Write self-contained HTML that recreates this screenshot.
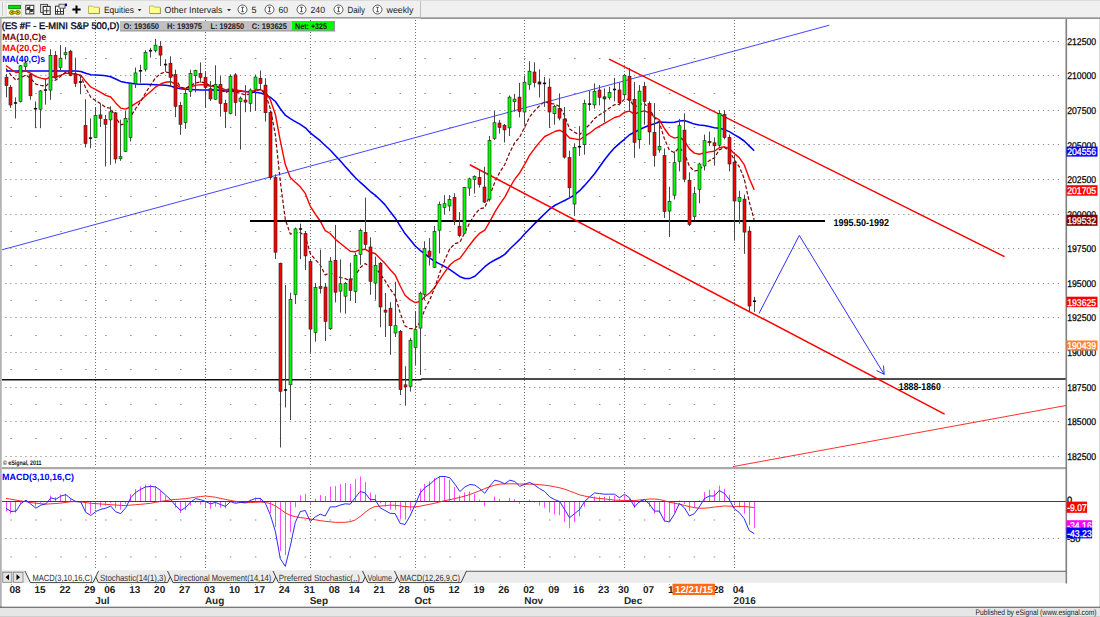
<!DOCTYPE html><html><head><meta charset="utf-8"><title>ES #F - E-MINI S&amp;P 500</title><style>html,body{margin:0;padding:0;background:#f0f0f0}body{width:1100px;height:617px;overflow:hidden}</style></head><body><svg width="1100" height="617" viewBox="0 0 1100 617" style="display:block;text-rendering:geometricPrecision">
<rect x="0" y="0" width="1100" height="617" fill="#f0f0f0"/>
<rect x="2" y="19" width="1097" height="588.5" fill="#ffffff"/>
<g><line x1="5.4" y1="41.5" x2="1060" y2="41.5" stroke="#8e8e8e" stroke-width="1" stroke-dasharray="1.25 3.738" /><line x1="5.4" y1="75.5" x2="1060" y2="75.5" stroke="#8e8e8e" stroke-width="1" stroke-dasharray="1.25 3.738" /><line x1="5.4" y1="110.5" x2="1060" y2="110.5" stroke="#8e8e8e" stroke-width="1" stroke-dasharray="1.25 3.738" /><line x1="5.4" y1="144.5" x2="1060" y2="144.5" stroke="#8e8e8e" stroke-width="1" stroke-dasharray="1.25 3.738" /><line x1="5.4" y1="179.5" x2="1060" y2="179.5" stroke="#8e8e8e" stroke-width="1" stroke-dasharray="1.25 3.738" /><line x1="5.4" y1="214.5" x2="1060" y2="214.5" stroke="#8e8e8e" stroke-width="1" stroke-dasharray="1.25 3.738" /><line x1="5.4" y1="248.5" x2="1060" y2="248.5" stroke="#8e8e8e" stroke-width="1" stroke-dasharray="1.25 3.738" /><line x1="5.4" y1="283.5" x2="1060" y2="283.5" stroke="#8e8e8e" stroke-width="1" stroke-dasharray="1.25 3.738" /><line x1="5.4" y1="317.5" x2="1060" y2="317.5" stroke="#8e8e8e" stroke-width="1" stroke-dasharray="1.25 3.738" /><line x1="5.4" y1="352.5" x2="1060" y2="352.5" stroke="#8e8e8e" stroke-width="1" stroke-dasharray="1.25 3.738" /><line x1="5.4" y1="387.5" x2="1060" y2="387.5" stroke="#8e8e8e" stroke-width="1" stroke-dasharray="1.25 3.738" /><line x1="5.4" y1="421.5" x2="1060" y2="421.5" stroke="#8e8e8e" stroke-width="1" stroke-dasharray="1.25 3.738" /><line x1="5.4" y1="456.5" x2="1060" y2="456.5" stroke="#8e8e8e" stroke-width="1" stroke-dasharray="1.25 3.738" /><line x1="5.4" y1="538.5" x2="1060" y2="538.5" stroke="#8e8e8e" stroke-width="1" stroke-dasharray="1.25 3.738" /><rect x="10.39" y="58.0" width="1.5" height="1" fill="#8e8e8e"/><rect x="35.33" y="58.0" width="1.5" height="1" fill="#8e8e8e"/><rect x="60.27" y="58.0" width="1.5" height="1" fill="#8e8e8e"/><rect x="85.21" y="58.0" width="1.5" height="1" fill="#8e8e8e"/><rect x="105.16" y="58.0" width="1.5" height="1" fill="#8e8e8e"/><rect x="130.10" y="58.0" width="1.5" height="1" fill="#8e8e8e"/><rect x="155.04" y="58.0" width="1.5" height="1" fill="#8e8e8e"/><rect x="179.98" y="58.0" width="1.5" height="1" fill="#8e8e8e"/><rect x="204.92" y="58.0" width="1.5" height="1" fill="#8e8e8e"/><rect x="229.86" y="58.0" width="1.5" height="1" fill="#8e8e8e"/><rect x="254.80" y="58.0" width="1.5" height="1" fill="#8e8e8e"/><rect x="279.74" y="58.0" width="1.5" height="1" fill="#8e8e8e"/><rect x="304.68" y="58.0" width="1.5" height="1" fill="#8e8e8e"/><rect x="329.62" y="58.0" width="1.5" height="1" fill="#8e8e8e"/><rect x="349.57" y="58.0" width="1.5" height="1" fill="#8e8e8e"/><rect x="374.51" y="58.0" width="1.5" height="1" fill="#8e8e8e"/><rect x="399.45" y="58.0" width="1.5" height="1" fill="#8e8e8e"/><rect x="424.39" y="58.0" width="1.5" height="1" fill="#8e8e8e"/><rect x="449.33" y="58.0" width="1.5" height="1" fill="#8e8e8e"/><rect x="474.27" y="58.0" width="1.5" height="1" fill="#8e8e8e"/><rect x="499.21" y="58.0" width="1.5" height="1" fill="#8e8e8e"/><rect x="524.15" y="58.0" width="1.5" height="1" fill="#8e8e8e"/><rect x="549.09" y="58.0" width="1.5" height="1" fill="#8e8e8e"/><rect x="574.03" y="58.0" width="1.5" height="1" fill="#8e8e8e"/><rect x="598.97" y="58.0" width="1.5" height="1" fill="#8e8e8e"/><rect x="618.92" y="58.0" width="1.5" height="1" fill="#8e8e8e"/><rect x="643.86" y="58.0" width="1.5" height="1" fill="#8e8e8e"/><rect x="668.80" y="58.0" width="1.5" height="1" fill="#8e8e8e"/><rect x="693.74" y="58.0" width="1.5" height="1" fill="#8e8e8e"/><rect x="713.70" y="58.0" width="1.5" height="1" fill="#8e8e8e"/><rect x="733.65" y="58.0" width="1.5" height="1" fill="#8e8e8e"/><rect x="10.39" y="93.0" width="1.5" height="1" fill="#8e8e8e"/><rect x="35.33" y="93.0" width="1.5" height="1" fill="#8e8e8e"/><rect x="60.27" y="93.0" width="1.5" height="1" fill="#8e8e8e"/><rect x="85.21" y="93.0" width="1.5" height="1" fill="#8e8e8e"/><rect x="105.16" y="93.0" width="1.5" height="1" fill="#8e8e8e"/><rect x="130.10" y="93.0" width="1.5" height="1" fill="#8e8e8e"/><rect x="155.04" y="93.0" width="1.5" height="1" fill="#8e8e8e"/><rect x="179.98" y="93.0" width="1.5" height="1" fill="#8e8e8e"/><rect x="204.92" y="93.0" width="1.5" height="1" fill="#8e8e8e"/><rect x="229.86" y="93.0" width="1.5" height="1" fill="#8e8e8e"/><rect x="254.80" y="93.0" width="1.5" height="1" fill="#8e8e8e"/><rect x="279.74" y="93.0" width="1.5" height="1" fill="#8e8e8e"/><rect x="304.68" y="93.0" width="1.5" height="1" fill="#8e8e8e"/><rect x="329.62" y="93.0" width="1.5" height="1" fill="#8e8e8e"/><rect x="349.57" y="93.0" width="1.5" height="1" fill="#8e8e8e"/><rect x="374.51" y="93.0" width="1.5" height="1" fill="#8e8e8e"/><rect x="399.45" y="93.0" width="1.5" height="1" fill="#8e8e8e"/><rect x="424.39" y="93.0" width="1.5" height="1" fill="#8e8e8e"/><rect x="449.33" y="93.0" width="1.5" height="1" fill="#8e8e8e"/><rect x="474.27" y="93.0" width="1.5" height="1" fill="#8e8e8e"/><rect x="499.21" y="93.0" width="1.5" height="1" fill="#8e8e8e"/><rect x="524.15" y="93.0" width="1.5" height="1" fill="#8e8e8e"/><rect x="549.09" y="93.0" width="1.5" height="1" fill="#8e8e8e"/><rect x="574.03" y="93.0" width="1.5" height="1" fill="#8e8e8e"/><rect x="598.97" y="93.0" width="1.5" height="1" fill="#8e8e8e"/><rect x="618.92" y="93.0" width="1.5" height="1" fill="#8e8e8e"/><rect x="643.86" y="93.0" width="1.5" height="1" fill="#8e8e8e"/><rect x="668.80" y="93.0" width="1.5" height="1" fill="#8e8e8e"/><rect x="693.74" y="93.0" width="1.5" height="1" fill="#8e8e8e"/><rect x="713.70" y="93.0" width="1.5" height="1" fill="#8e8e8e"/><rect x="733.65" y="93.0" width="1.5" height="1" fill="#8e8e8e"/><rect x="10.39" y="127.0" width="1.5" height="1" fill="#8e8e8e"/><rect x="35.33" y="127.0" width="1.5" height="1" fill="#8e8e8e"/><rect x="60.27" y="127.0" width="1.5" height="1" fill="#8e8e8e"/><rect x="85.21" y="127.0" width="1.5" height="1" fill="#8e8e8e"/><rect x="105.16" y="127.0" width="1.5" height="1" fill="#8e8e8e"/><rect x="130.10" y="127.0" width="1.5" height="1" fill="#8e8e8e"/><rect x="155.04" y="127.0" width="1.5" height="1" fill="#8e8e8e"/><rect x="179.98" y="127.0" width="1.5" height="1" fill="#8e8e8e"/><rect x="204.92" y="127.0" width="1.5" height="1" fill="#8e8e8e"/><rect x="229.86" y="127.0" width="1.5" height="1" fill="#8e8e8e"/><rect x="254.80" y="127.0" width="1.5" height="1" fill="#8e8e8e"/><rect x="279.74" y="127.0" width="1.5" height="1" fill="#8e8e8e"/><rect x="304.68" y="127.0" width="1.5" height="1" fill="#8e8e8e"/><rect x="329.62" y="127.0" width="1.5" height="1" fill="#8e8e8e"/><rect x="349.57" y="127.0" width="1.5" height="1" fill="#8e8e8e"/><rect x="374.51" y="127.0" width="1.5" height="1" fill="#8e8e8e"/><rect x="399.45" y="127.0" width="1.5" height="1" fill="#8e8e8e"/><rect x="424.39" y="127.0" width="1.5" height="1" fill="#8e8e8e"/><rect x="449.33" y="127.0" width="1.5" height="1" fill="#8e8e8e"/><rect x="474.27" y="127.0" width="1.5" height="1" fill="#8e8e8e"/><rect x="499.21" y="127.0" width="1.5" height="1" fill="#8e8e8e"/><rect x="524.15" y="127.0" width="1.5" height="1" fill="#8e8e8e"/><rect x="549.09" y="127.0" width="1.5" height="1" fill="#8e8e8e"/><rect x="574.03" y="127.0" width="1.5" height="1" fill="#8e8e8e"/><rect x="598.97" y="127.0" width="1.5" height="1" fill="#8e8e8e"/><rect x="618.92" y="127.0" width="1.5" height="1" fill="#8e8e8e"/><rect x="643.86" y="127.0" width="1.5" height="1" fill="#8e8e8e"/><rect x="668.80" y="127.0" width="1.5" height="1" fill="#8e8e8e"/><rect x="693.74" y="127.0" width="1.5" height="1" fill="#8e8e8e"/><rect x="713.70" y="127.0" width="1.5" height="1" fill="#8e8e8e"/><rect x="733.65" y="127.0" width="1.5" height="1" fill="#8e8e8e"/><rect x="10.39" y="162.0" width="1.5" height="1" fill="#8e8e8e"/><rect x="35.33" y="162.0" width="1.5" height="1" fill="#8e8e8e"/><rect x="60.27" y="162.0" width="1.5" height="1" fill="#8e8e8e"/><rect x="85.21" y="162.0" width="1.5" height="1" fill="#8e8e8e"/><rect x="105.16" y="162.0" width="1.5" height="1" fill="#8e8e8e"/><rect x="130.10" y="162.0" width="1.5" height="1" fill="#8e8e8e"/><rect x="155.04" y="162.0" width="1.5" height="1" fill="#8e8e8e"/><rect x="179.98" y="162.0" width="1.5" height="1" fill="#8e8e8e"/><rect x="204.92" y="162.0" width="1.5" height="1" fill="#8e8e8e"/><rect x="229.86" y="162.0" width="1.5" height="1" fill="#8e8e8e"/><rect x="254.80" y="162.0" width="1.5" height="1" fill="#8e8e8e"/><rect x="279.74" y="162.0" width="1.5" height="1" fill="#8e8e8e"/><rect x="304.68" y="162.0" width="1.5" height="1" fill="#8e8e8e"/><rect x="329.62" y="162.0" width="1.5" height="1" fill="#8e8e8e"/><rect x="349.57" y="162.0" width="1.5" height="1" fill="#8e8e8e"/><rect x="374.51" y="162.0" width="1.5" height="1" fill="#8e8e8e"/><rect x="399.45" y="162.0" width="1.5" height="1" fill="#8e8e8e"/><rect x="424.39" y="162.0" width="1.5" height="1" fill="#8e8e8e"/><rect x="449.33" y="162.0" width="1.5" height="1" fill="#8e8e8e"/><rect x="474.27" y="162.0" width="1.5" height="1" fill="#8e8e8e"/><rect x="499.21" y="162.0" width="1.5" height="1" fill="#8e8e8e"/><rect x="524.15" y="162.0" width="1.5" height="1" fill="#8e8e8e"/><rect x="549.09" y="162.0" width="1.5" height="1" fill="#8e8e8e"/><rect x="574.03" y="162.0" width="1.5" height="1" fill="#8e8e8e"/><rect x="598.97" y="162.0" width="1.5" height="1" fill="#8e8e8e"/><rect x="618.92" y="162.0" width="1.5" height="1" fill="#8e8e8e"/><rect x="643.86" y="162.0" width="1.5" height="1" fill="#8e8e8e"/><rect x="668.80" y="162.0" width="1.5" height="1" fill="#8e8e8e"/><rect x="693.74" y="162.0" width="1.5" height="1" fill="#8e8e8e"/><rect x="713.70" y="162.0" width="1.5" height="1" fill="#8e8e8e"/><rect x="733.65" y="162.0" width="1.5" height="1" fill="#8e8e8e"/><rect x="10.39" y="196.0" width="1.5" height="1" fill="#8e8e8e"/><rect x="35.33" y="196.0" width="1.5" height="1" fill="#8e8e8e"/><rect x="60.27" y="196.0" width="1.5" height="1" fill="#8e8e8e"/><rect x="85.21" y="196.0" width="1.5" height="1" fill="#8e8e8e"/><rect x="105.16" y="196.0" width="1.5" height="1" fill="#8e8e8e"/><rect x="130.10" y="196.0" width="1.5" height="1" fill="#8e8e8e"/><rect x="155.04" y="196.0" width="1.5" height="1" fill="#8e8e8e"/><rect x="179.98" y="196.0" width="1.5" height="1" fill="#8e8e8e"/><rect x="204.92" y="196.0" width="1.5" height="1" fill="#8e8e8e"/><rect x="229.86" y="196.0" width="1.5" height="1" fill="#8e8e8e"/><rect x="254.80" y="196.0" width="1.5" height="1" fill="#8e8e8e"/><rect x="279.74" y="196.0" width="1.5" height="1" fill="#8e8e8e"/><rect x="304.68" y="196.0" width="1.5" height="1" fill="#8e8e8e"/><rect x="329.62" y="196.0" width="1.5" height="1" fill="#8e8e8e"/><rect x="349.57" y="196.0" width="1.5" height="1" fill="#8e8e8e"/><rect x="374.51" y="196.0" width="1.5" height="1" fill="#8e8e8e"/><rect x="399.45" y="196.0" width="1.5" height="1" fill="#8e8e8e"/><rect x="424.39" y="196.0" width="1.5" height="1" fill="#8e8e8e"/><rect x="449.33" y="196.0" width="1.5" height="1" fill="#8e8e8e"/><rect x="474.27" y="196.0" width="1.5" height="1" fill="#8e8e8e"/><rect x="499.21" y="196.0" width="1.5" height="1" fill="#8e8e8e"/><rect x="524.15" y="196.0" width="1.5" height="1" fill="#8e8e8e"/><rect x="549.09" y="196.0" width="1.5" height="1" fill="#8e8e8e"/><rect x="574.03" y="196.0" width="1.5" height="1" fill="#8e8e8e"/><rect x="598.97" y="196.0" width="1.5" height="1" fill="#8e8e8e"/><rect x="618.92" y="196.0" width="1.5" height="1" fill="#8e8e8e"/><rect x="643.86" y="196.0" width="1.5" height="1" fill="#8e8e8e"/><rect x="668.80" y="196.0" width="1.5" height="1" fill="#8e8e8e"/><rect x="693.74" y="196.0" width="1.5" height="1" fill="#8e8e8e"/><rect x="713.70" y="196.0" width="1.5" height="1" fill="#8e8e8e"/><rect x="733.65" y="196.0" width="1.5" height="1" fill="#8e8e8e"/><rect x="10.39" y="231.0" width="1.5" height="1" fill="#8e8e8e"/><rect x="35.33" y="231.0" width="1.5" height="1" fill="#8e8e8e"/><rect x="60.27" y="231.0" width="1.5" height="1" fill="#8e8e8e"/><rect x="85.21" y="231.0" width="1.5" height="1" fill="#8e8e8e"/><rect x="105.16" y="231.0" width="1.5" height="1" fill="#8e8e8e"/><rect x="130.10" y="231.0" width="1.5" height="1" fill="#8e8e8e"/><rect x="155.04" y="231.0" width="1.5" height="1" fill="#8e8e8e"/><rect x="179.98" y="231.0" width="1.5" height="1" fill="#8e8e8e"/><rect x="204.92" y="231.0" width="1.5" height="1" fill="#8e8e8e"/><rect x="229.86" y="231.0" width="1.5" height="1" fill="#8e8e8e"/><rect x="254.80" y="231.0" width="1.5" height="1" fill="#8e8e8e"/><rect x="279.74" y="231.0" width="1.5" height="1" fill="#8e8e8e"/><rect x="304.68" y="231.0" width="1.5" height="1" fill="#8e8e8e"/><rect x="329.62" y="231.0" width="1.5" height="1" fill="#8e8e8e"/><rect x="349.57" y="231.0" width="1.5" height="1" fill="#8e8e8e"/><rect x="374.51" y="231.0" width="1.5" height="1" fill="#8e8e8e"/><rect x="399.45" y="231.0" width="1.5" height="1" fill="#8e8e8e"/><rect x="424.39" y="231.0" width="1.5" height="1" fill="#8e8e8e"/><rect x="449.33" y="231.0" width="1.5" height="1" fill="#8e8e8e"/><rect x="474.27" y="231.0" width="1.5" height="1" fill="#8e8e8e"/><rect x="499.21" y="231.0" width="1.5" height="1" fill="#8e8e8e"/><rect x="524.15" y="231.0" width="1.5" height="1" fill="#8e8e8e"/><rect x="549.09" y="231.0" width="1.5" height="1" fill="#8e8e8e"/><rect x="574.03" y="231.0" width="1.5" height="1" fill="#8e8e8e"/><rect x="598.97" y="231.0" width="1.5" height="1" fill="#8e8e8e"/><rect x="618.92" y="231.0" width="1.5" height="1" fill="#8e8e8e"/><rect x="643.86" y="231.0" width="1.5" height="1" fill="#8e8e8e"/><rect x="668.80" y="231.0" width="1.5" height="1" fill="#8e8e8e"/><rect x="693.74" y="231.0" width="1.5" height="1" fill="#8e8e8e"/><rect x="713.70" y="231.0" width="1.5" height="1" fill="#8e8e8e"/><rect x="733.65" y="231.0" width="1.5" height="1" fill="#8e8e8e"/><rect x="10.39" y="265.0" width="1.5" height="1" fill="#8e8e8e"/><rect x="35.33" y="265.0" width="1.5" height="1" fill="#8e8e8e"/><rect x="60.27" y="265.0" width="1.5" height="1" fill="#8e8e8e"/><rect x="85.21" y="265.0" width="1.5" height="1" fill="#8e8e8e"/><rect x="105.16" y="265.0" width="1.5" height="1" fill="#8e8e8e"/><rect x="130.10" y="265.0" width="1.5" height="1" fill="#8e8e8e"/><rect x="155.04" y="265.0" width="1.5" height="1" fill="#8e8e8e"/><rect x="179.98" y="265.0" width="1.5" height="1" fill="#8e8e8e"/><rect x="204.92" y="265.0" width="1.5" height="1" fill="#8e8e8e"/><rect x="229.86" y="265.0" width="1.5" height="1" fill="#8e8e8e"/><rect x="254.80" y="265.0" width="1.5" height="1" fill="#8e8e8e"/><rect x="279.74" y="265.0" width="1.5" height="1" fill="#8e8e8e"/><rect x="304.68" y="265.0" width="1.5" height="1" fill="#8e8e8e"/><rect x="329.62" y="265.0" width="1.5" height="1" fill="#8e8e8e"/><rect x="349.57" y="265.0" width="1.5" height="1" fill="#8e8e8e"/><rect x="374.51" y="265.0" width="1.5" height="1" fill="#8e8e8e"/><rect x="399.45" y="265.0" width="1.5" height="1" fill="#8e8e8e"/><rect x="424.39" y="265.0" width="1.5" height="1" fill="#8e8e8e"/><rect x="449.33" y="265.0" width="1.5" height="1" fill="#8e8e8e"/><rect x="474.27" y="265.0" width="1.5" height="1" fill="#8e8e8e"/><rect x="499.21" y="265.0" width="1.5" height="1" fill="#8e8e8e"/><rect x="524.15" y="265.0" width="1.5" height="1" fill="#8e8e8e"/><rect x="549.09" y="265.0" width="1.5" height="1" fill="#8e8e8e"/><rect x="574.03" y="265.0" width="1.5" height="1" fill="#8e8e8e"/><rect x="598.97" y="265.0" width="1.5" height="1" fill="#8e8e8e"/><rect x="618.92" y="265.0" width="1.5" height="1" fill="#8e8e8e"/><rect x="643.86" y="265.0" width="1.5" height="1" fill="#8e8e8e"/><rect x="668.80" y="265.0" width="1.5" height="1" fill="#8e8e8e"/><rect x="693.74" y="265.0" width="1.5" height="1" fill="#8e8e8e"/><rect x="713.70" y="265.0" width="1.5" height="1" fill="#8e8e8e"/><rect x="733.65" y="265.0" width="1.5" height="1" fill="#8e8e8e"/><rect x="10.39" y="300.0" width="1.5" height="1" fill="#8e8e8e"/><rect x="35.33" y="300.0" width="1.5" height="1" fill="#8e8e8e"/><rect x="60.27" y="300.0" width="1.5" height="1" fill="#8e8e8e"/><rect x="85.21" y="300.0" width="1.5" height="1" fill="#8e8e8e"/><rect x="105.16" y="300.0" width="1.5" height="1" fill="#8e8e8e"/><rect x="130.10" y="300.0" width="1.5" height="1" fill="#8e8e8e"/><rect x="155.04" y="300.0" width="1.5" height="1" fill="#8e8e8e"/><rect x="179.98" y="300.0" width="1.5" height="1" fill="#8e8e8e"/><rect x="204.92" y="300.0" width="1.5" height="1" fill="#8e8e8e"/><rect x="229.86" y="300.0" width="1.5" height="1" fill="#8e8e8e"/><rect x="254.80" y="300.0" width="1.5" height="1" fill="#8e8e8e"/><rect x="279.74" y="300.0" width="1.5" height="1" fill="#8e8e8e"/><rect x="304.68" y="300.0" width="1.5" height="1" fill="#8e8e8e"/><rect x="329.62" y="300.0" width="1.5" height="1" fill="#8e8e8e"/><rect x="349.57" y="300.0" width="1.5" height="1" fill="#8e8e8e"/><rect x="374.51" y="300.0" width="1.5" height="1" fill="#8e8e8e"/><rect x="399.45" y="300.0" width="1.5" height="1" fill="#8e8e8e"/><rect x="424.39" y="300.0" width="1.5" height="1" fill="#8e8e8e"/><rect x="449.33" y="300.0" width="1.5" height="1" fill="#8e8e8e"/><rect x="474.27" y="300.0" width="1.5" height="1" fill="#8e8e8e"/><rect x="499.21" y="300.0" width="1.5" height="1" fill="#8e8e8e"/><rect x="524.15" y="300.0" width="1.5" height="1" fill="#8e8e8e"/><rect x="549.09" y="300.0" width="1.5" height="1" fill="#8e8e8e"/><rect x="574.03" y="300.0" width="1.5" height="1" fill="#8e8e8e"/><rect x="598.97" y="300.0" width="1.5" height="1" fill="#8e8e8e"/><rect x="618.92" y="300.0" width="1.5" height="1" fill="#8e8e8e"/><rect x="643.86" y="300.0" width="1.5" height="1" fill="#8e8e8e"/><rect x="668.80" y="300.0" width="1.5" height="1" fill="#8e8e8e"/><rect x="693.74" y="300.0" width="1.5" height="1" fill="#8e8e8e"/><rect x="713.70" y="300.0" width="1.5" height="1" fill="#8e8e8e"/><rect x="733.65" y="300.0" width="1.5" height="1" fill="#8e8e8e"/><rect x="10.39" y="335.0" width="1.5" height="1" fill="#8e8e8e"/><rect x="35.33" y="335.0" width="1.5" height="1" fill="#8e8e8e"/><rect x="60.27" y="335.0" width="1.5" height="1" fill="#8e8e8e"/><rect x="85.21" y="335.0" width="1.5" height="1" fill="#8e8e8e"/><rect x="105.16" y="335.0" width="1.5" height="1" fill="#8e8e8e"/><rect x="130.10" y="335.0" width="1.5" height="1" fill="#8e8e8e"/><rect x="155.04" y="335.0" width="1.5" height="1" fill="#8e8e8e"/><rect x="179.98" y="335.0" width="1.5" height="1" fill="#8e8e8e"/><rect x="204.92" y="335.0" width="1.5" height="1" fill="#8e8e8e"/><rect x="229.86" y="335.0" width="1.5" height="1" fill="#8e8e8e"/><rect x="254.80" y="335.0" width="1.5" height="1" fill="#8e8e8e"/><rect x="279.74" y="335.0" width="1.5" height="1" fill="#8e8e8e"/><rect x="304.68" y="335.0" width="1.5" height="1" fill="#8e8e8e"/><rect x="329.62" y="335.0" width="1.5" height="1" fill="#8e8e8e"/><rect x="349.57" y="335.0" width="1.5" height="1" fill="#8e8e8e"/><rect x="374.51" y="335.0" width="1.5" height="1" fill="#8e8e8e"/><rect x="399.45" y="335.0" width="1.5" height="1" fill="#8e8e8e"/><rect x="424.39" y="335.0" width="1.5" height="1" fill="#8e8e8e"/><rect x="449.33" y="335.0" width="1.5" height="1" fill="#8e8e8e"/><rect x="474.27" y="335.0" width="1.5" height="1" fill="#8e8e8e"/><rect x="499.21" y="335.0" width="1.5" height="1" fill="#8e8e8e"/><rect x="524.15" y="335.0" width="1.5" height="1" fill="#8e8e8e"/><rect x="549.09" y="335.0" width="1.5" height="1" fill="#8e8e8e"/><rect x="574.03" y="335.0" width="1.5" height="1" fill="#8e8e8e"/><rect x="598.97" y="335.0" width="1.5" height="1" fill="#8e8e8e"/><rect x="618.92" y="335.0" width="1.5" height="1" fill="#8e8e8e"/><rect x="643.86" y="335.0" width="1.5" height="1" fill="#8e8e8e"/><rect x="668.80" y="335.0" width="1.5" height="1" fill="#8e8e8e"/><rect x="693.74" y="335.0" width="1.5" height="1" fill="#8e8e8e"/><rect x="713.70" y="335.0" width="1.5" height="1" fill="#8e8e8e"/><rect x="733.65" y="335.0" width="1.5" height="1" fill="#8e8e8e"/><rect x="10.39" y="369.0" width="1.5" height="1" fill="#8e8e8e"/><rect x="35.33" y="369.0" width="1.5" height="1" fill="#8e8e8e"/><rect x="60.27" y="369.0" width="1.5" height="1" fill="#8e8e8e"/><rect x="85.21" y="369.0" width="1.5" height="1" fill="#8e8e8e"/><rect x="105.16" y="369.0" width="1.5" height="1" fill="#8e8e8e"/><rect x="130.10" y="369.0" width="1.5" height="1" fill="#8e8e8e"/><rect x="155.04" y="369.0" width="1.5" height="1" fill="#8e8e8e"/><rect x="179.98" y="369.0" width="1.5" height="1" fill="#8e8e8e"/><rect x="204.92" y="369.0" width="1.5" height="1" fill="#8e8e8e"/><rect x="229.86" y="369.0" width="1.5" height="1" fill="#8e8e8e"/><rect x="254.80" y="369.0" width="1.5" height="1" fill="#8e8e8e"/><rect x="279.74" y="369.0" width="1.5" height="1" fill="#8e8e8e"/><rect x="304.68" y="369.0" width="1.5" height="1" fill="#8e8e8e"/><rect x="329.62" y="369.0" width="1.5" height="1" fill="#8e8e8e"/><rect x="349.57" y="369.0" width="1.5" height="1" fill="#8e8e8e"/><rect x="374.51" y="369.0" width="1.5" height="1" fill="#8e8e8e"/><rect x="399.45" y="369.0" width="1.5" height="1" fill="#8e8e8e"/><rect x="424.39" y="369.0" width="1.5" height="1" fill="#8e8e8e"/><rect x="449.33" y="369.0" width="1.5" height="1" fill="#8e8e8e"/><rect x="474.27" y="369.0" width="1.5" height="1" fill="#8e8e8e"/><rect x="499.21" y="369.0" width="1.5" height="1" fill="#8e8e8e"/><rect x="524.15" y="369.0" width="1.5" height="1" fill="#8e8e8e"/><rect x="549.09" y="369.0" width="1.5" height="1" fill="#8e8e8e"/><rect x="574.03" y="369.0" width="1.5" height="1" fill="#8e8e8e"/><rect x="598.97" y="369.0" width="1.5" height="1" fill="#8e8e8e"/><rect x="618.92" y="369.0" width="1.5" height="1" fill="#8e8e8e"/><rect x="643.86" y="369.0" width="1.5" height="1" fill="#8e8e8e"/><rect x="668.80" y="369.0" width="1.5" height="1" fill="#8e8e8e"/><rect x="693.74" y="369.0" width="1.5" height="1" fill="#8e8e8e"/><rect x="713.70" y="369.0" width="1.5" height="1" fill="#8e8e8e"/><rect x="733.65" y="369.0" width="1.5" height="1" fill="#8e8e8e"/><rect x="10.39" y="404.0" width="1.5" height="1" fill="#8e8e8e"/><rect x="35.33" y="404.0" width="1.5" height="1" fill="#8e8e8e"/><rect x="60.27" y="404.0" width="1.5" height="1" fill="#8e8e8e"/><rect x="85.21" y="404.0" width="1.5" height="1" fill="#8e8e8e"/><rect x="105.16" y="404.0" width="1.5" height="1" fill="#8e8e8e"/><rect x="130.10" y="404.0" width="1.5" height="1" fill="#8e8e8e"/><rect x="155.04" y="404.0" width="1.5" height="1" fill="#8e8e8e"/><rect x="179.98" y="404.0" width="1.5" height="1" fill="#8e8e8e"/><rect x="204.92" y="404.0" width="1.5" height="1" fill="#8e8e8e"/><rect x="229.86" y="404.0" width="1.5" height="1" fill="#8e8e8e"/><rect x="254.80" y="404.0" width="1.5" height="1" fill="#8e8e8e"/><rect x="279.74" y="404.0" width="1.5" height="1" fill="#8e8e8e"/><rect x="304.68" y="404.0" width="1.5" height="1" fill="#8e8e8e"/><rect x="329.62" y="404.0" width="1.5" height="1" fill="#8e8e8e"/><rect x="349.57" y="404.0" width="1.5" height="1" fill="#8e8e8e"/><rect x="374.51" y="404.0" width="1.5" height="1" fill="#8e8e8e"/><rect x="399.45" y="404.0" width="1.5" height="1" fill="#8e8e8e"/><rect x="424.39" y="404.0" width="1.5" height="1" fill="#8e8e8e"/><rect x="449.33" y="404.0" width="1.5" height="1" fill="#8e8e8e"/><rect x="474.27" y="404.0" width="1.5" height="1" fill="#8e8e8e"/><rect x="499.21" y="404.0" width="1.5" height="1" fill="#8e8e8e"/><rect x="524.15" y="404.0" width="1.5" height="1" fill="#8e8e8e"/><rect x="549.09" y="404.0" width="1.5" height="1" fill="#8e8e8e"/><rect x="574.03" y="404.0" width="1.5" height="1" fill="#8e8e8e"/><rect x="598.97" y="404.0" width="1.5" height="1" fill="#8e8e8e"/><rect x="618.92" y="404.0" width="1.5" height="1" fill="#8e8e8e"/><rect x="643.86" y="404.0" width="1.5" height="1" fill="#8e8e8e"/><rect x="668.80" y="404.0" width="1.5" height="1" fill="#8e8e8e"/><rect x="693.74" y="404.0" width="1.5" height="1" fill="#8e8e8e"/><rect x="713.70" y="404.0" width="1.5" height="1" fill="#8e8e8e"/><rect x="733.65" y="404.0" width="1.5" height="1" fill="#8e8e8e"/><rect x="10.39" y="438.0" width="1.5" height="1" fill="#8e8e8e"/><rect x="35.33" y="438.0" width="1.5" height="1" fill="#8e8e8e"/><rect x="60.27" y="438.0" width="1.5" height="1" fill="#8e8e8e"/><rect x="85.21" y="438.0" width="1.5" height="1" fill="#8e8e8e"/><rect x="105.16" y="438.0" width="1.5" height="1" fill="#8e8e8e"/><rect x="130.10" y="438.0" width="1.5" height="1" fill="#8e8e8e"/><rect x="155.04" y="438.0" width="1.5" height="1" fill="#8e8e8e"/><rect x="179.98" y="438.0" width="1.5" height="1" fill="#8e8e8e"/><rect x="204.92" y="438.0" width="1.5" height="1" fill="#8e8e8e"/><rect x="229.86" y="438.0" width="1.5" height="1" fill="#8e8e8e"/><rect x="254.80" y="438.0" width="1.5" height="1" fill="#8e8e8e"/><rect x="279.74" y="438.0" width="1.5" height="1" fill="#8e8e8e"/><rect x="304.68" y="438.0" width="1.5" height="1" fill="#8e8e8e"/><rect x="329.62" y="438.0" width="1.5" height="1" fill="#8e8e8e"/><rect x="349.57" y="438.0" width="1.5" height="1" fill="#8e8e8e"/><rect x="374.51" y="438.0" width="1.5" height="1" fill="#8e8e8e"/><rect x="399.45" y="438.0" width="1.5" height="1" fill="#8e8e8e"/><rect x="424.39" y="438.0" width="1.5" height="1" fill="#8e8e8e"/><rect x="449.33" y="438.0" width="1.5" height="1" fill="#8e8e8e"/><rect x="474.27" y="438.0" width="1.5" height="1" fill="#8e8e8e"/><rect x="499.21" y="438.0" width="1.5" height="1" fill="#8e8e8e"/><rect x="524.15" y="438.0" width="1.5" height="1" fill="#8e8e8e"/><rect x="549.09" y="438.0" width="1.5" height="1" fill="#8e8e8e"/><rect x="574.03" y="438.0" width="1.5" height="1" fill="#8e8e8e"/><rect x="598.97" y="438.0" width="1.5" height="1" fill="#8e8e8e"/><rect x="618.92" y="438.0" width="1.5" height="1" fill="#8e8e8e"/><rect x="643.86" y="438.0" width="1.5" height="1" fill="#8e8e8e"/><rect x="668.80" y="438.0" width="1.5" height="1" fill="#8e8e8e"/><rect x="693.74" y="438.0" width="1.5" height="1" fill="#8e8e8e"/><rect x="713.70" y="438.0" width="1.5" height="1" fill="#8e8e8e"/><rect x="733.65" y="438.0" width="1.5" height="1" fill="#8e8e8e"/><rect x="10.39" y="519.5" width="1.5" height="1" fill="#8e8e8e"/><rect x="35.33" y="519.5" width="1.5" height="1" fill="#8e8e8e"/><rect x="60.27" y="519.5" width="1.5" height="1" fill="#8e8e8e"/><rect x="85.21" y="519.5" width="1.5" height="1" fill="#8e8e8e"/><rect x="105.16" y="519.5" width="1.5" height="1" fill="#8e8e8e"/><rect x="130.10" y="519.5" width="1.5" height="1" fill="#8e8e8e"/><rect x="155.04" y="519.5" width="1.5" height="1" fill="#8e8e8e"/><rect x="179.98" y="519.5" width="1.5" height="1" fill="#8e8e8e"/><rect x="204.92" y="519.5" width="1.5" height="1" fill="#8e8e8e"/><rect x="229.86" y="519.5" width="1.5" height="1" fill="#8e8e8e"/><rect x="254.80" y="519.5" width="1.5" height="1" fill="#8e8e8e"/><rect x="279.74" y="519.5" width="1.5" height="1" fill="#8e8e8e"/><rect x="304.68" y="519.5" width="1.5" height="1" fill="#8e8e8e"/><rect x="329.62" y="519.5" width="1.5" height="1" fill="#8e8e8e"/><rect x="349.57" y="519.5" width="1.5" height="1" fill="#8e8e8e"/><rect x="374.51" y="519.5" width="1.5" height="1" fill="#8e8e8e"/><rect x="399.45" y="519.5" width="1.5" height="1" fill="#8e8e8e"/><rect x="424.39" y="519.5" width="1.5" height="1" fill="#8e8e8e"/><rect x="449.33" y="519.5" width="1.5" height="1" fill="#8e8e8e"/><rect x="474.27" y="519.5" width="1.5" height="1" fill="#8e8e8e"/><rect x="499.21" y="519.5" width="1.5" height="1" fill="#8e8e8e"/><rect x="524.15" y="519.5" width="1.5" height="1" fill="#8e8e8e"/><rect x="549.09" y="519.5" width="1.5" height="1" fill="#8e8e8e"/><rect x="574.03" y="519.5" width="1.5" height="1" fill="#8e8e8e"/><rect x="598.97" y="519.5" width="1.5" height="1" fill="#8e8e8e"/><rect x="618.92" y="519.5" width="1.5" height="1" fill="#8e8e8e"/><rect x="643.86" y="519.5" width="1.5" height="1" fill="#8e8e8e"/><rect x="668.80" y="519.5" width="1.5" height="1" fill="#8e8e8e"/><rect x="693.74" y="519.5" width="1.5" height="1" fill="#8e8e8e"/><rect x="713.70" y="519.5" width="1.5" height="1" fill="#8e8e8e"/><rect x="733.65" y="519.5" width="1.5" height="1" fill="#8e8e8e"/><rect x="10.39" y="556.5" width="1.5" height="1" fill="#8e8e8e"/><rect x="35.33" y="556.5" width="1.5" height="1" fill="#8e8e8e"/><rect x="60.27" y="556.5" width="1.5" height="1" fill="#8e8e8e"/><rect x="85.21" y="556.5" width="1.5" height="1" fill="#8e8e8e"/><rect x="105.16" y="556.5" width="1.5" height="1" fill="#8e8e8e"/><rect x="130.10" y="556.5" width="1.5" height="1" fill="#8e8e8e"/><rect x="155.04" y="556.5" width="1.5" height="1" fill="#8e8e8e"/><rect x="179.98" y="556.5" width="1.5" height="1" fill="#8e8e8e"/><rect x="204.92" y="556.5" width="1.5" height="1" fill="#8e8e8e"/><rect x="229.86" y="556.5" width="1.5" height="1" fill="#8e8e8e"/><rect x="254.80" y="556.5" width="1.5" height="1" fill="#8e8e8e"/><rect x="279.74" y="556.5" width="1.5" height="1" fill="#8e8e8e"/><rect x="304.68" y="556.5" width="1.5" height="1" fill="#8e8e8e"/><rect x="329.62" y="556.5" width="1.5" height="1" fill="#8e8e8e"/><rect x="349.57" y="556.5" width="1.5" height="1" fill="#8e8e8e"/><rect x="374.51" y="556.5" width="1.5" height="1" fill="#8e8e8e"/><rect x="399.45" y="556.5" width="1.5" height="1" fill="#8e8e8e"/><rect x="424.39" y="556.5" width="1.5" height="1" fill="#8e8e8e"/><rect x="449.33" y="556.5" width="1.5" height="1" fill="#8e8e8e"/><rect x="474.27" y="556.5" width="1.5" height="1" fill="#8e8e8e"/><rect x="499.21" y="556.5" width="1.5" height="1" fill="#8e8e8e"/><rect x="524.15" y="556.5" width="1.5" height="1" fill="#8e8e8e"/><rect x="549.09" y="556.5" width="1.5" height="1" fill="#8e8e8e"/><rect x="574.03" y="556.5" width="1.5" height="1" fill="#8e8e8e"/><rect x="598.97" y="556.5" width="1.5" height="1" fill="#8e8e8e"/><rect x="618.92" y="556.5" width="1.5" height="1" fill="#8e8e8e"/><rect x="643.86" y="556.5" width="1.5" height="1" fill="#8e8e8e"/><rect x="668.80" y="556.5" width="1.5" height="1" fill="#8e8e8e"/><rect x="693.74" y="556.5" width="1.5" height="1" fill="#8e8e8e"/><rect x="713.70" y="556.5" width="1.5" height="1" fill="#8e8e8e"/><rect x="733.65" y="556.5" width="1.5" height="1" fill="#8e8e8e"/></g>
<g shape-rendering="crispEdges"><line x1="95.5" y1="20" x2="95.5" y2="466" stroke="#707070" stroke-width="1" stroke-dasharray="1 2"/><line x1="95.5" y1="471" x2="95.5" y2="570" stroke="#707070" stroke-width="1" stroke-dasharray="1 2"/><line x1="205.5" y1="20" x2="205.5" y2="466" stroke="#707070" stroke-width="1" stroke-dasharray="1 2"/><line x1="205.5" y1="471" x2="205.5" y2="570" stroke="#707070" stroke-width="1" stroke-dasharray="1 2"/><line x1="310.5" y1="20" x2="310.5" y2="466" stroke="#707070" stroke-width="1" stroke-dasharray="1 2"/><line x1="310.5" y1="471" x2="310.5" y2="570" stroke="#707070" stroke-width="1" stroke-dasharray="1 2"/><line x1="415.5" y1="20" x2="415.5" y2="466" stroke="#707070" stroke-width="1" stroke-dasharray="1 2"/><line x1="415.5" y1="471" x2="415.5" y2="570" stroke="#707070" stroke-width="1" stroke-dasharray="1 2"/><line x1="524.5" y1="20" x2="524.5" y2="466" stroke="#707070" stroke-width="1" stroke-dasharray="1 2"/><line x1="524.5" y1="471" x2="524.5" y2="570" stroke="#707070" stroke-width="1" stroke-dasharray="1 2"/><line x1="624.5" y1="20" x2="624.5" y2="466" stroke="#707070" stroke-width="1" stroke-dasharray="1 2"/><line x1="624.5" y1="471" x2="624.5" y2="570" stroke="#707070" stroke-width="1" stroke-dasharray="1 2"/><line x1="734.5" y1="20" x2="734.5" y2="466" stroke="#707070" stroke-width="1" stroke-dasharray="1 2"/><line x1="734.5" y1="471" x2="734.5" y2="570" stroke="#707070" stroke-width="1" stroke-dasharray="1 2"/></g>
<polyline points="6.0,71.0 11.0,71.0 16.0,71.0 21.0,71.0 26.0,71.0 30.9,71.0 35.9,71.0 40.9,71.0 45.9,71.0 50.9,71.0 55.9,71.0 60.9,71.0 65.9,71.0 70.8,71.0 75.8,71.0 80.8,71.5 85.8,73.3 90.8,74.8 95.8,75.1 100.8,75.3 105.8,75.8 110.7,76.7 115.7,79.0 120.7,81.4 125.7,82.5 130.7,83.3 135.7,84.0 140.7,84.2 145.7,84.3 150.7,84.6 155.6,84.8 160.6,85.0 165.6,85.3 170.6,86.1 175.6,87.8 180.6,88.7 185.6,89.3 190.6,89.5 195.5,89.7 200.5,89.9 205.5,90.0 210.5,90.0 215.5,89.8 220.5,90.4 225.5,91.1 230.5,90.9 235.4,91.0 240.4,91.2 245.4,91.4 250.4,92.1 255.4,92.3 260.4,92.9 265.4,94.6 270.4,97.4 275.4,101.5 280.3,108.7 285.3,115.2 290.3,118.7 295.3,121.6 300.3,124.4 305.3,127.8 310.3,132.9 315.3,136.9 320.2,140.7 325.2,145.5 330.2,150.0 335.2,155.5 340.2,160.8 345.2,166.4 350.2,172.1 355.2,177.5 360.1,182.2 365.1,186.7 370.1,191.3 375.1,195.1 380.1,199.7 385.1,204.9 390.1,211.5 395.1,217.9 400.1,225.8 405.0,233.6 410.0,239.4 415.0,245.7 420.0,250.3 425.0,253.9 430.0,258.2 435.0,261.5 440.0,264.1 444.9,266.6 449.9,269.6 454.9,273.2 459.9,276.7 464.9,278.4 469.9,278.4 474.9,276.3 479.9,271.5 484.8,266.7 489.8,262.9 494.8,260.0 499.8,257.5 504.8,254.4 509.8,249.0 514.8,244.2 519.8,239.4 524.8,233.8 529.7,228.7 534.7,223.6 539.7,218.6 544.7,213.7 549.7,209.0 554.7,205.5 559.7,202.9 564.7,200.5 569.6,197.9 574.6,195.0 579.6,190.7 584.6,185.4 589.6,179.8 594.6,173.7 599.6,166.8 604.6,159.7 609.5,153.5 614.5,147.8 619.5,143.3 624.5,139.3 629.5,134.7 634.5,132.2 639.5,129.6 644.5,127.2 649.5,125.3 654.4,123.7 659.4,122.1 664.4,122.3 669.4,122.5 674.4,122.3 679.4,121.0 684.4,120.5 689.4,122.2 694.3,124.1 699.3,125.1 704.3,125.6 709.3,126.6 714.3,127.7 719.3,128.3 724.3,129.6 729.3,131.6 734.2,134.6 739.2,137.5 744.2,141.0 749.2,145.9 754.2,150.8" fill="none" stroke="#0000ff" stroke-width="1.55" stroke-linejoin="round"/>
<polyline points="6.0,65.5 11.0,69.3 16.0,72.5 21.0,71.8 26.0,71.0 30.9,73.4 35.9,76.7 40.9,78.1 45.9,79.2 50.9,76.9 55.9,77.0 60.9,75.2 65.9,73.2 70.8,73.4 75.8,74.3 80.8,75.1 85.8,81.6 90.8,87.0 95.8,89.7 100.8,92.4 105.8,95.4 110.7,97.0 115.7,102.9 120.7,108.1 125.7,109.1 130.7,106.7 135.7,103.4 140.7,100.3 145.7,95.8 150.7,91.5 155.6,87.1 160.6,84.0 165.6,82.2 170.6,81.7 175.6,84.0 180.6,87.9 185.6,88.4 190.6,87.0 195.5,85.4 200.5,84.6 205.5,84.9 210.5,86.2 215.5,86.1 220.5,87.7 225.5,90.0 230.5,88.7 235.4,90.0 240.4,90.8 245.4,91.8 250.4,91.7 255.4,90.3 260.4,89.6 265.4,91.8 270.4,100.0 275.4,114.5 280.3,140.9 285.3,164.6 290.3,177.4 295.3,182.3 300.3,186.8 305.3,193.4 310.3,206.3 315.3,214.0 320.2,221.0 325.2,230.6 330.2,233.5 335.2,239.1 340.2,243.3 345.2,247.2 350.2,251.3 355.2,251.7 360.1,249.7 365.1,249.2 370.1,252.2 375.1,253.5 380.1,258.6 385.1,263.6 390.1,269.5 395.1,274.9 400.1,285.8 405.0,295.3 410.0,299.6 415.0,302.5 420.0,301.6 425.0,296.5 430.0,292.7 435.0,286.9 440.0,279.1 444.9,271.9 449.9,265.0 454.9,260.8 459.9,258.4 464.9,251.7 469.9,244.7 474.9,238.2 479.9,233.1 484.8,230.2 489.8,221.6 494.8,212.2 499.8,204.1 504.8,197.1 509.8,187.5 514.8,179.1 519.8,172.7 524.8,164.1 529.7,155.2 534.7,148.3 539.7,142.1 544.7,136.5 549.7,134.1 554.7,131.5 559.7,130.2 564.7,132.8 569.6,138.0 574.6,138.9 579.6,139.7 584.6,136.2 589.6,133.2 594.6,129.2 599.6,126.1 604.6,123.4 609.5,120.5 614.5,117.5 619.5,116.1 624.5,112.3 629.5,111.1 634.5,114.1 639.5,111.9 644.5,110.9 649.5,112.9 654.4,117.0 659.4,119.8 664.4,128.5 669.4,135.5 674.4,138.1 679.4,136.9 684.4,140.9 689.4,148.9 694.3,153.1 699.3,154.2 704.3,152.9 709.3,151.9 714.3,151.3 719.3,147.7 724.3,146.8 729.3,148.4 734.2,153.4 739.2,157.6 744.2,164.7 749.2,178.2 754.2,189.9" fill="none" stroke="#ff0000" stroke-width="1.4" stroke-linejoin="round"/>
<polyline points="6.0,68.5 11.0,75.1 16.0,80.2 21.0,77.6 26.0,74.9 30.9,78.7 35.9,84.2 40.9,85.4 45.9,86.2 50.9,80.6 55.9,80.1 60.9,76.1 65.9,72.0 70.8,72.7 75.8,74.6 80.8,75.9 85.8,88.2 90.8,97.3 95.8,100.6 100.8,103.8 105.8,107.5 110.7,108.3 115.7,117.5 120.7,124.8 125.7,123.7 130.7,116.4 135.7,108.5 140.7,101.6 145.7,92.7 150.7,85.0 155.6,77.8 160.6,73.6 165.6,72.0 170.6,73.0 175.6,79.0 180.6,87.3 185.6,88.4 190.6,85.7 195.5,82.9 200.5,81.9 205.5,82.9 210.5,85.8 215.5,85.5 220.5,88.8 225.5,92.9 230.5,89.9 235.4,92.2 240.4,93.3 245.4,94.9 250.4,94.0 255.4,90.9 260.4,89.5 265.4,93.8 270.4,109.0 275.4,135.0 280.3,181.6 285.3,219.5 290.3,234.1 295.3,233.1 300.3,232.4 305.3,236.6 310.3,253.5 315.3,259.6 320.2,264.7 325.2,275.0 330.2,272.5 335.2,276.1 340.2,277.5 345.2,278.6 350.2,280.7 355.2,276.1 360.1,267.8 365.1,263.6 370.1,266.8 375.1,266.6 380.1,273.9 385.1,280.7 390.1,288.9 395.1,295.6 400.1,312.7 405.0,326.0 410.0,328.6 415.0,328.8 420.0,322.3 425.0,308.9 430.0,299.4 435.0,287.0 440.0,272.0 444.9,259.6 449.9,248.7 454.9,243.7 459.9,242.2 464.9,232.3 469.9,222.6 474.9,214.2 479.9,208.8 484.8,207.6 489.8,195.4 494.8,182.2 499.8,172.2 504.8,164.5 509.8,152.3 514.8,142.6 519.8,136.9 524.8,127.0 529.7,116.8 534.7,110.6 539.7,105.6 544.7,101.5 549.7,103.4 554.7,104.0 559.7,106.6 564.7,115.8 569.6,128.9 574.6,132.2 579.6,134.9 584.6,129.1 589.6,124.6 594.6,118.5 599.6,114.7 604.6,111.6 609.5,108.1 614.5,104.7 619.5,104.4 624.5,99.1 629.5,99.4 634.5,107.2 639.5,104.3 644.5,103.7 649.5,108.9 654.4,117.4 659.4,122.6 664.4,138.8 669.4,150.2 674.4,152.5 679.4,147.6 684.4,153.3 689.4,166.3 694.3,171.2 699.3,169.9 704.3,164.6 709.3,160.6 714.3,157.9 719.3,149.9 724.3,147.6 729.3,150.6 734.2,159.7 739.2,166.6 744.2,178.5 749.2,201.7 754.2,219.8" fill="none" stroke="#800000" stroke-width="1.2" stroke-dasharray="3.6 2" stroke-linejoin="round"/>
<line x1="2" y1="249.8" x2="829.3" y2="25.2" stroke="#3030ff" stroke-width="0.9"/>
<line x1="250" y1="221" x2="825" y2="221" stroke="#000" stroke-width="2.1"/>
<polyline points="2,379.7 421,379.7 422,378.9 1066,378.9" fill="none" stroke="#111" stroke-width="1.5"/>
<line x1="469.8" y1="164.8" x2="944.6" y2="414.1" stroke="#ff0000" stroke-width="1.55"/>
<line x1="609" y1="59.1" x2="1004.5" y2="256.6" stroke="#ff0000" stroke-width="1.55"/>
<line x1="733" y1="466.6" x2="1066" y2="405.5" stroke="#ff3030" stroke-width="1"/>
<polyline points="759,313.4 799.3,235.4 884.2,374.4" fill="none" stroke="#3030ff" stroke-width="1"/>
<polyline points="876.5,370.5 884.2,374.4 883.5,365.5" fill="none" stroke="#3030ff" stroke-width="1"/>
<g><line x1="6.5" y1="73.9" x2="6.5" y2="97.4" stroke="#484848" stroke-width="1"/><rect x="5.0" y="77.1" width="3" height="8.5" fill="#ff0000" stroke="#202020" stroke-width="0.6"/><line x1="10.5" y1="84.9" x2="10.5" y2="107.9" stroke="#484848" stroke-width="1"/><rect x="9.0" y="87.2" width="3" height="17.8" fill="#ff0000" stroke="#202020" stroke-width="0.6"/><line x1="15.5" y1="97.4" x2="15.5" y2="118.5" stroke="#484848" stroke-width="1"/><rect x="13.9" y="102.2" width="3.2" height="1.6" fill="#101010"/><line x1="20.5" y1="65.0" x2="20.5" y2="102.3" stroke="#484848" stroke-width="1"/><rect x="19.0" y="65.8" width="3" height="35.7" fill="#00ff00" stroke="#202020" stroke-width="0.6"/><line x1="25.5" y1="59.3" x2="25.5" y2="71.5" stroke="#484848" stroke-width="1"/><rect x="24.0" y="62.9" width="3" height="3.7" fill="#00ff00" stroke="#202020" stroke-width="0.6"/><line x1="30.5" y1="73.0" x2="30.5" y2="99.8" stroke="#484848" stroke-width="1"/><rect x="29.0" y="74.7" width="3" height="21.1" fill="#ff0000" stroke="#202020" stroke-width="0.6"/><line x1="35.5" y1="101.5" x2="35.5" y2="128.2" stroke="#484848" stroke-width="1"/><rect x="33.9" y="107.9" width="3.2" height="1.6" fill="#101010"/><line x1="40.5" y1="90.0" x2="40.5" y2="128.2" stroke="#484848" stroke-width="1"/><rect x="39.0" y="90.9" width="3" height="18.3" fill="#00ff00" stroke="#202020" stroke-width="0.6"/><line x1="45.5" y1="78.8" x2="45.5" y2="104.7" stroke="#484848" stroke-width="1"/><rect x="43.9" y="89.2" width="3.2" height="1.6" fill="#101010"/><line x1="50.5" y1="49.3" x2="50.5" y2="99.8" stroke="#484848" stroke-width="1"/><rect x="49.0" y="55.3" width="3" height="34.8" fill="#00ff00" stroke="#202020" stroke-width="0.6"/><line x1="55.5" y1="51.2" x2="55.5" y2="79.6" stroke="#484848" stroke-width="1"/><rect x="54.0" y="55.3" width="3" height="22.7" fill="#ff0000" stroke="#202020" stroke-width="0.6"/><line x1="60.5" y1="45.0" x2="60.5" y2="70.7" stroke="#484848" stroke-width="1"/><rect x="59.0" y="58.2" width="3" height="9.2" fill="#00ff00" stroke="#202020" stroke-width="0.6"/><line x1="65.5" y1="47.2" x2="65.5" y2="59.3" stroke="#484848" stroke-width="1"/><rect x="64.0" y="52.6" width="3" height="2.2" fill="#00e000" stroke="#202020" stroke-width="0.5"/><line x1="70.5" y1="49.9" x2="70.5" y2="76.3" stroke="#484848" stroke-width="1"/><rect x="69.0" y="51.2" width="3" height="24.3" fill="#ff0000" stroke="#202020" stroke-width="0.6"/><line x1="75.5" y1="57.7" x2="75.5" y2="86.9" stroke="#484848" stroke-width="1"/><rect x="74.0" y="73.9" width="3" height="9.4" fill="#ff0000" stroke="#202020" stroke-width="0.6"/><line x1="80.5" y1="74.7" x2="80.5" y2="94.2" stroke="#484848" stroke-width="1"/><rect x="78.9" y="81.2" width="3.2" height="1.6" fill="#101010"/><line x1="85.5" y1="99.2" x2="85.5" y2="147.5" stroke="#484848" stroke-width="1"/><rect x="84.0" y="125.3" width="3" height="18.2" fill="#ff0000" stroke="#202020" stroke-width="0.6"/><line x1="90.5" y1="118.3" x2="90.5" y2="148.3" stroke="#484848" stroke-width="1"/><rect x="88.9" y="137.3" width="3.2" height="1.6" fill="#101010"/><line x1="95.5" y1="107.0" x2="95.5" y2="137.8" stroke="#484848" stroke-width="1"/><rect x="94.0" y="115.5" width="3" height="22.1" fill="#00ff00" stroke="#202020" stroke-width="0.6"/><line x1="100.5" y1="103.8" x2="100.5" y2="126.9" stroke="#484848" stroke-width="1"/><rect x="99.0" y="114.9" width="3" height="3.4" fill="#ff0000" stroke="#202020" stroke-width="0.6"/><line x1="105.5" y1="114.9" x2="105.5" y2="166.5" stroke="#484848" stroke-width="1"/><rect x="104.0" y="119.4" width="3" height="4.9" fill="#ff0000" stroke="#202020" stroke-width="0.6"/><line x1="110.5" y1="106.3" x2="110.5" y2="164.8" stroke="#484848" stroke-width="1"/><rect x="109.0" y="111.8" width="3" height="8.1" fill="#00ff00" stroke="#202020" stroke-width="0.6"/><line x1="115.5" y1="112.0" x2="115.5" y2="163.5" stroke="#484848" stroke-width="1"/><rect x="114.0" y="112.8" width="3" height="46.2" fill="#ff0000" stroke="#202020" stroke-width="0.6"/><line x1="120.5" y1="119.7" x2="120.5" y2="160.8" stroke="#484848" stroke-width="1"/><rect x="119.0" y="156.6" width="3" height="2.2" fill="#00e000" stroke="#202020" stroke-width="0.5"/><line x1="125.5" y1="111.0" x2="125.5" y2="152.0" stroke="#484848" stroke-width="1"/><rect x="124.0" y="118.4" width="3" height="32.9" fill="#00ff00" stroke="#202020" stroke-width="0.6"/><line x1="130.5" y1="82.7" x2="130.5" y2="141.5" stroke="#484848" stroke-width="1"/><rect x="129.0" y="83.5" width="3" height="54.1" fill="#00ff00" stroke="#202020" stroke-width="0.6"/><line x1="135.5" y1="67.5" x2="135.5" y2="88.0" stroke="#484848" stroke-width="1"/><rect x="134.0" y="72.9" width="3" height="10.6" fill="#00ff00" stroke="#202020" stroke-width="0.6"/><line x1="140.5" y1="64.8" x2="140.5" y2="82.7" stroke="#484848" stroke-width="1"/><rect x="138.9" y="70.0" width="3.2" height="1.6" fill="#101010"/><line x1="145.5" y1="50.3" x2="145.5" y2="71.5" stroke="#484848" stroke-width="1"/><rect x="144.0" y="52.4" width="3" height="16.8" fill="#00ff00" stroke="#202020" stroke-width="0.6"/><line x1="150.5" y1="47.8" x2="150.5" y2="57.6" stroke="#484848" stroke-width="1"/><rect x="148.9" y="49.9" width="3.2" height="1.6" fill="#101010"/><line x1="155.5" y1="38.9" x2="155.5" y2="52.4" stroke="#484848" stroke-width="1"/><rect x="154.0" y="45.1" width="3" height="5.2" fill="#00ff00" stroke="#202020" stroke-width="0.6"/><line x1="160.5" y1="41.0" x2="160.5" y2="66.0" stroke="#484848" stroke-width="1"/><rect x="159.0" y="46.2" width="3" height="8.9" fill="#ff0000" stroke="#202020" stroke-width="0.6"/><line x1="165.5" y1="59.2" x2="165.5" y2="71.8" stroke="#484848" stroke-width="1"/><rect x="163.9" y="63.8" width="3.2" height="1.6" fill="#101010"/><line x1="170.5" y1="56.3" x2="170.5" y2="86.7" stroke="#484848" stroke-width="1"/><rect x="169.0" y="63.2" width="3" height="14.1" fill="#ff0000" stroke="#202020" stroke-width="0.6"/><line x1="175.5" y1="69.7" x2="175.5" y2="117.1" stroke="#484848" stroke-width="1"/><rect x="174.0" y="74.6" width="3" height="31.7" fill="#ff0000" stroke="#202020" stroke-width="0.6"/><line x1="180.5" y1="101.8" x2="180.5" y2="134.8" stroke="#484848" stroke-width="1"/><rect x="179.0" y="105.5" width="3" height="18.8" fill="#ff0000" stroke="#202020" stroke-width="0.6"/><line x1="185.5" y1="88.3" x2="185.5" y2="128.8" stroke="#484848" stroke-width="1"/><rect x="184.0" y="93.5" width="3" height="29.1" fill="#00ff00" stroke="#202020" stroke-width="0.6"/><line x1="190.5" y1="69.7" x2="190.5" y2="96.8" stroke="#484848" stroke-width="1"/><rect x="189.0" y="73.4" width="3" height="18.2" fill="#00ff00" stroke="#202020" stroke-width="0.6"/><line x1="195.5" y1="69.7" x2="195.5" y2="92.4" stroke="#484848" stroke-width="1"/><rect x="194.0" y="70.5" width="3" height="5.2" fill="#00ff00" stroke="#202020" stroke-width="0.6"/><line x1="200.5" y1="62.4" x2="200.5" y2="82.7" stroke="#484848" stroke-width="1"/><rect x="199.0" y="73.4" width="3" height="3.9" fill="#ff0000" stroke="#202020" stroke-width="0.6"/><line x1="205.5" y1="72.1" x2="205.5" y2="107.8" stroke="#484848" stroke-width="1"/><rect x="204.0" y="77.3" width="3" height="10.2" fill="#ff0000" stroke="#202020" stroke-width="0.6"/><line x1="210.5" y1="81.0" x2="210.5" y2="101.0" stroke="#484848" stroke-width="1"/><rect x="209.0" y="88.7" width="3" height="10.2" fill="#ff0000" stroke="#202020" stroke-width="0.6"/><line x1="215.5" y1="65.3" x2="215.5" y2="99.8" stroke="#484848" stroke-width="1"/><rect x="214.0" y="84.3" width="3" height="14.9" fill="#00ff00" stroke="#202020" stroke-width="0.6"/><line x1="220.5" y1="76.2" x2="220.5" y2="116.7" stroke="#484848" stroke-width="1"/><rect x="219.0" y="84.3" width="3" height="19.2" fill="#ff0000" stroke="#202020" stroke-width="0.6"/><line x1="225.5" y1="99.7" x2="225.5" y2="128.0" stroke="#484848" stroke-width="1"/><rect x="224.0" y="103.3" width="3" height="8.2" fill="#ff0000" stroke="#202020" stroke-width="0.6"/><line x1="230.5" y1="74.3" x2="230.5" y2="114.3" stroke="#484848" stroke-width="1"/><rect x="229.0" y="76.2" width="3" height="37.3" fill="#00ff00" stroke="#202020" stroke-width="0.6"/><line x1="235.5" y1="73.0" x2="235.5" y2="115.9" stroke="#484848" stroke-width="1"/><rect x="234.0" y="74.9" width="3" height="27.6" fill="#ff0000" stroke="#202020" stroke-width="0.6"/><line x1="240.5" y1="96.5" x2="240.5" y2="149.5" stroke="#484848" stroke-width="1"/><rect x="239.0" y="98.1" width="3" height="3.2" fill="#00ff00" stroke="#202020" stroke-width="0.6"/><line x1="245.5" y1="85.1" x2="245.5" y2="112.2" stroke="#484848" stroke-width="1"/><rect x="244.0" y="100.0" width="3" height="2.1" fill="#ff0000" stroke="#202020" stroke-width="0.6"/><line x1="250.5" y1="88.4" x2="250.5" y2="111.9" stroke="#484848" stroke-width="1"/><rect x="249.0" y="90.0" width="3" height="13.4" fill="#00ff00" stroke="#202020" stroke-width="0.6"/><line x1="255.5" y1="74.6" x2="255.5" y2="111.0" stroke="#484848" stroke-width="1"/><rect x="254.0" y="77.0" width="3" height="12.2" fill="#00ff00" stroke="#202020" stroke-width="0.6"/><line x1="260.5" y1="70.5" x2="260.5" y2="89.2" stroke="#484848" stroke-width="1"/><rect x="259.0" y="78.2" width="3" height="5.3" fill="#ff0000" stroke="#202020" stroke-width="0.6"/><line x1="265.5" y1="78.2" x2="265.5" y2="121.6" stroke="#484848" stroke-width="1"/><rect x="264.0" y="85.1" width="3" height="27.6" fill="#ff0000" stroke="#202020" stroke-width="0.6"/><line x1="270.5" y1="111.0" x2="270.5" y2="179.5" stroke="#484848" stroke-width="1"/><rect x="269.0" y="112.2" width="3" height="65.4" fill="#ff0000" stroke="#202020" stroke-width="0.6"/><line x1="275.5" y1="174.3" x2="275.5" y2="259.1" stroke="#484848" stroke-width="1"/><rect x="274.0" y="177.6" width="3" height="74.6" fill="#ff0000" stroke="#202020" stroke-width="0.6"/><line x1="280.5" y1="262.7" x2="280.5" y2="447.5" stroke="#484848" stroke-width="1"/><rect x="279.0" y="263.2" width="3" height="128.1" fill="#ff0000" stroke="#202020" stroke-width="0.6"/><line x1="285.5" y1="285.0" x2="285.5" y2="407.5" stroke="#484848" stroke-width="1"/><rect x="283.9" y="389.2" width="3.2" height="1.6" fill="#101010"/><line x1="290.5" y1="292.7" x2="290.5" y2="420.0" stroke="#484848" stroke-width="1"/><rect x="289.0" y="299.5" width="3" height="85.3" fill="#00ff00" stroke="#202020" stroke-width="0.6"/><line x1="295.5" y1="227.5" x2="295.5" y2="304.0" stroke="#484848" stroke-width="1"/><rect x="294.0" y="228.9" width="3" height="65.4" fill="#00ff00" stroke="#202020" stroke-width="0.6"/><line x1="300.5" y1="223.7" x2="300.5" y2="259.1" stroke="#484848" stroke-width="1"/><rect x="298.9" y="228.2" width="3.2" height="1.6" fill="#101010"/><line x1="305.5" y1="231.0" x2="305.5" y2="270.0" stroke="#484848" stroke-width="1"/><rect x="304.0" y="233.5" width="3" height="22.4" fill="#ff0000" stroke="#202020" stroke-width="0.6"/><line x1="310.5" y1="259.1" x2="310.5" y2="352.7" stroke="#484848" stroke-width="1"/><rect x="309.0" y="261.6" width="3" height="67.5" fill="#ff0000" stroke="#202020" stroke-width="0.6"/><line x1="315.5" y1="283.0" x2="315.5" y2="341.7" stroke="#484848" stroke-width="1"/><rect x="314.0" y="287.5" width="3" height="44.9" fill="#00ff00" stroke="#202020" stroke-width="0.6"/><line x1="320.5" y1="249.7" x2="320.5" y2="293.5" stroke="#484848" stroke-width="1"/><rect x="319.0" y="286.5" width="3" height="2.2" fill="#ff0000" stroke="#202020" stroke-width="0.5"/><line x1="325.5" y1="283.0" x2="325.5" y2="341.0" stroke="#484848" stroke-width="1"/><rect x="324.0" y="287.0" width="3" height="34.4" fill="#ff0000" stroke="#202020" stroke-width="0.6"/><line x1="330.5" y1="257.0" x2="330.5" y2="330.0" stroke="#484848" stroke-width="1"/><rect x="329.0" y="261.1" width="3" height="67.7" fill="#00ff00" stroke="#202020" stroke-width="0.6"/><line x1="335.5" y1="224.9" x2="335.5" y2="302.4" stroke="#484848" stroke-width="1"/><rect x="334.0" y="260.3" width="3" height="31.9" fill="#ff0000" stroke="#202020" stroke-width="0.6"/><line x1="340.5" y1="259.4" x2="340.5" y2="312.6" stroke="#484848" stroke-width="1"/><rect x="339.0" y="283.8" width="3" height="7.3" fill="#00ff00" stroke="#202020" stroke-width="0.6"/><line x1="345.5" y1="282.0" x2="345.5" y2="313.7" stroke="#484848" stroke-width="1"/><rect x="344.0" y="283.4" width="3" height="12.8" fill="#00ff00" stroke="#202020" stroke-width="0.6"/><line x1="350.5" y1="262.7" x2="350.5" y2="300.8" stroke="#484848" stroke-width="1"/><rect x="349.0" y="278.9" width="3" height="11.7" fill="#ff0000" stroke="#202020" stroke-width="0.6"/><line x1="355.5" y1="252.7" x2="355.5" y2="303.0" stroke="#484848" stroke-width="1"/><rect x="354.0" y="255.4" width="3" height="36.1" fill="#00ff00" stroke="#202020" stroke-width="0.6"/><line x1="360.5" y1="228.6" x2="360.5" y2="264.8" stroke="#484848" stroke-width="1"/><rect x="359.0" y="230.5" width="3" height="23.8" fill="#00ff00" stroke="#202020" stroke-width="0.6"/><line x1="365.5" y1="197.6" x2="365.5" y2="248.6" stroke="#484848" stroke-width="1"/><rect x="364.0" y="232.4" width="3" height="12.0" fill="#ff0000" stroke="#202020" stroke-width="0.6"/><line x1="370.5" y1="237.3" x2="370.5" y2="294.8" stroke="#484848" stroke-width="1"/><rect x="369.0" y="247.0" width="3" height="34.4" fill="#ff0000" stroke="#202020" stroke-width="0.6"/><line x1="375.5" y1="256.7" x2="375.5" y2="299.7" stroke="#484848" stroke-width="1"/><rect x="374.0" y="265.6" width="3" height="17.5" fill="#00ff00" stroke="#202020" stroke-width="0.6"/><line x1="380.5" y1="262.0" x2="380.5" y2="327.3" stroke="#484848" stroke-width="1"/><rect x="379.0" y="263.2" width="3" height="43.8" fill="#ff0000" stroke="#202020" stroke-width="0.6"/><line x1="385.5" y1="293.0" x2="385.5" y2="337.0" stroke="#484848" stroke-width="1"/><rect x="384.0" y="310.0" width="3" height="2.2" fill="#ff0000" stroke="#202020" stroke-width="0.5"/><line x1="390.5" y1="302.2" x2="390.5" y2="354.8" stroke="#484848" stroke-width="1"/><rect x="389.0" y="308.2" width="3" height="17.5" fill="#ff0000" stroke="#202020" stroke-width="0.6"/><line x1="395.5" y1="281.8" x2="395.5" y2="337.0" stroke="#484848" stroke-width="1"/><rect x="394.0" y="325.7" width="3" height="7.3" fill="#00ff00" stroke="#202020" stroke-width="0.6"/><line x1="400.5" y1="330.0" x2="400.5" y2="395.0" stroke="#484848" stroke-width="1"/><rect x="399.0" y="331.3" width="3" height="58.4" fill="#ff0000" stroke="#202020" stroke-width="0.6"/><line x1="405.5" y1="366.3" x2="405.5" y2="405.7" stroke="#484848" stroke-width="1"/><rect x="404.0" y="384.8" width="3" height="2.2" fill="#ff0000" stroke="#202020" stroke-width="0.5"/><line x1="410.5" y1="337.8" x2="410.5" y2="391.6" stroke="#484848" stroke-width="1"/><rect x="409.0" y="340.2" width="3" height="46.1" fill="#00ff00" stroke="#202020" stroke-width="0.6"/><line x1="415.5" y1="311.0" x2="415.5" y2="364.9" stroke="#484848" stroke-width="1"/><rect x="414.0" y="329.7" width="3" height="17.8" fill="#00ff00" stroke="#202020" stroke-width="0.6"/><line x1="420.5" y1="291.6" x2="420.5" y2="375.1" stroke="#484848" stroke-width="1"/><rect x="419.0" y="293.2" width="3" height="34.9" fill="#00ff00" stroke="#202020" stroke-width="0.6"/><line x1="424.5" y1="241.3" x2="424.5" y2="300.0" stroke="#484848" stroke-width="1"/><rect x="423.0" y="248.6" width="3" height="45.7" fill="#00ff00" stroke="#202020" stroke-width="0.6"/><line x1="429.5" y1="238.1" x2="429.5" y2="265.6" stroke="#484848" stroke-width="1"/><rect x="428.0" y="251.0" width="3" height="5.4" fill="#ff0000" stroke="#202020" stroke-width="0.6"/><line x1="434.5" y1="225.9" x2="434.5" y2="268.0" stroke="#484848" stroke-width="1"/><rect x="433.0" y="231.6" width="3" height="35.7" fill="#00ff00" stroke="#202020" stroke-width="0.6"/><line x1="439.5" y1="201.6" x2="439.5" y2="253.5" stroke="#484848" stroke-width="1"/><rect x="438.0" y="204.6" width="3" height="25.6" fill="#00ff00" stroke="#202020" stroke-width="0.6"/><line x1="444.5" y1="195.1" x2="444.5" y2="214.6" stroke="#484848" stroke-width="1"/><rect x="443.0" y="203.7" width="3" height="3.8" fill="#00ff00" stroke="#202020" stroke-width="0.6"/><line x1="449.5" y1="195.1" x2="449.5" y2="211.3" stroke="#484848" stroke-width="1"/><rect x="448.0" y="199.6" width="3" height="6.4" fill="#00ff00" stroke="#202020" stroke-width="0.6"/><line x1="454.5" y1="193.2" x2="454.5" y2="225.1" stroke="#484848" stroke-width="1"/><rect x="453.0" y="197.5" width="3" height="23.5" fill="#ff0000" stroke="#202020" stroke-width="0.6"/><line x1="459.5" y1="212.1" x2="459.5" y2="237.2" stroke="#484848" stroke-width="1"/><rect x="458.0" y="226.2" width="3" height="9.4" fill="#ff0000" stroke="#202020" stroke-width="0.6"/><line x1="464.5" y1="187.0" x2="464.5" y2="234.0" stroke="#484848" stroke-width="1"/><rect x="463.0" y="187.5" width="3" height="45.7" fill="#00ff00" stroke="#202020" stroke-width="0.6"/><line x1="469.5" y1="177.6" x2="469.5" y2="195.9" stroke="#484848" stroke-width="1"/><rect x="468.0" y="178.9" width="3" height="9.2" fill="#00ff00" stroke="#202020" stroke-width="0.6"/><line x1="474.5" y1="175.3" x2="474.5" y2="193.5" stroke="#484848" stroke-width="1"/><rect x="473.0" y="176.5" width="3" height="2.9" fill="#00ff00" stroke="#202020" stroke-width="0.6"/><line x1="479.5" y1="170.0" x2="479.5" y2="187.5" stroke="#484848" stroke-width="1"/><rect x="478.0" y="177.6" width="3" height="7.0" fill="#ff0000" stroke="#202020" stroke-width="0.6"/><line x1="484.5" y1="166.7" x2="484.5" y2="203.0" stroke="#484848" stroke-width="1"/><rect x="483.0" y="187.0" width="3" height="15.1" fill="#ff0000" stroke="#202020" stroke-width="0.6"/><line x1="489.5" y1="136.0" x2="489.5" y2="201.6" stroke="#484848" stroke-width="1"/><rect x="488.0" y="140.6" width="3" height="58.6" fill="#00ff00" stroke="#202020" stroke-width="0.6"/><line x1="494.5" y1="110.9" x2="494.5" y2="140.0" stroke="#484848" stroke-width="1"/><rect x="493.0" y="122.7" width="3" height="15.8" fill="#00ff00" stroke="#202020" stroke-width="0.6"/><line x1="499.5" y1="119.8" x2="499.5" y2="133.6" stroke="#484848" stroke-width="1"/><rect x="498.0" y="123.0" width="3" height="4.4" fill="#ff0000" stroke="#202020" stroke-width="0.6"/><line x1="504.5" y1="124.0" x2="504.5" y2="142.5" stroke="#484848" stroke-width="1"/><rect x="503.0" y="125.2" width="3" height="4.7" fill="#ff0000" stroke="#202020" stroke-width="0.6"/><line x1="509.5" y1="95.5" x2="509.5" y2="136.0" stroke="#484848" stroke-width="1"/><rect x="508.0" y="97.1" width="3" height="30.8" fill="#00ff00" stroke="#202020" stroke-width="0.6"/><line x1="514.5" y1="93.9" x2="514.5" y2="111.7" stroke="#484848" stroke-width="1"/><rect x="513.0" y="99.1" width="3" height="2.6" fill="#00ff00" stroke="#202020" stroke-width="0.6"/><line x1="519.5" y1="82.9" x2="519.5" y2="117.4" stroke="#484848" stroke-width="1"/><rect x="518.0" y="97.1" width="3" height="14.3" fill="#ff0000" stroke="#202020" stroke-width="0.6"/><line x1="524.5" y1="76.0" x2="524.5" y2="124.7" stroke="#484848" stroke-width="1"/><rect x="523.0" y="82.2" width="3" height="29.8" fill="#00ff00" stroke="#202020" stroke-width="0.6"/><line x1="529.5" y1="61.2" x2="529.5" y2="89.8" stroke="#484848" stroke-width="1"/><rect x="528.0" y="71.2" width="3" height="13.3" fill="#00ff00" stroke="#202020" stroke-width="0.6"/><line x1="534.5" y1="62.3" x2="534.5" y2="87.4" stroke="#484848" stroke-width="1"/><rect x="533.0" y="72.0" width="3" height="10.6" fill="#ff0000" stroke="#202020" stroke-width="0.6"/><line x1="539.5" y1="69.3" x2="539.5" y2="97.5" stroke="#484848" stroke-width="1"/><rect x="538.0" y="81.9" width="3" height="2.2" fill="#700000" stroke="#202020" stroke-width="0.5"/><line x1="544.5" y1="76.9" x2="544.5" y2="106.9" stroke="#484848" stroke-width="1"/><rect x="542.9" y="82.6" width="3.2" height="1.6" fill="#101010"/><line x1="549.5" y1="78.5" x2="549.5" y2="127.9" stroke="#484848" stroke-width="1"/><rect x="548.0" y="87.1" width="3" height="24.9" fill="#ff0000" stroke="#202020" stroke-width="0.6"/><line x1="554.5" y1="105.0" x2="554.5" y2="124.7" stroke="#484848" stroke-width="1"/><rect x="553.0" y="106.5" width="3" height="7.2" fill="#00ff00" stroke="#202020" stroke-width="0.6"/><line x1="559.5" y1="93.4" x2="559.5" y2="120.3" stroke="#484848" stroke-width="1"/><rect x="558.0" y="108.4" width="3" height="9.7" fill="#ff0000" stroke="#202020" stroke-width="0.6"/><line x1="564.5" y1="107.0" x2="564.5" y2="158.7" stroke="#484848" stroke-width="1"/><rect x="563.0" y="119.1" width="3" height="38.0" fill="#ff0000" stroke="#202020" stroke-width="0.6"/><line x1="569.5" y1="150.6" x2="569.5" y2="197.5" stroke="#484848" stroke-width="1"/><rect x="568.0" y="157.5" width="3" height="30.3" fill="#ff0000" stroke="#202020" stroke-width="0.6"/><line x1="574.5" y1="143.3" x2="574.5" y2="215.9" stroke="#484848" stroke-width="1"/><rect x="573.0" y="147.4" width="3" height="56.6" fill="#00ff00" stroke="#202020" stroke-width="0.6"/><line x1="579.5" y1="126.1" x2="579.5" y2="155.9" stroke="#484848" stroke-width="1"/><rect x="577.9" y="145.9" width="3.2" height="1.6" fill="#101010"/><line x1="584.5" y1="99.7" x2="584.5" y2="154.7" stroke="#484848" stroke-width="1"/><rect x="583.0" y="103.4" width="3" height="41.3" fill="#00ff00" stroke="#202020" stroke-width="0.6"/><line x1="589.5" y1="90.8" x2="589.5" y2="110.2" stroke="#484848" stroke-width="1"/><rect x="587.9" y="103.3" width="3.2" height="1.6" fill="#101010"/><line x1="594.5" y1="83.5" x2="594.5" y2="108.6" stroke="#484848" stroke-width="1"/><rect x="593.0" y="91.3" width="3" height="13.6" fill="#00ff00" stroke="#202020" stroke-width="0.6"/><line x1="599.5" y1="85.1" x2="599.5" y2="105.4" stroke="#484848" stroke-width="1"/><rect x="598.0" y="90.0" width="3" height="7.3" fill="#ff0000" stroke="#202020" stroke-width="0.6"/><line x1="604.5" y1="88.4" x2="604.5" y2="122.4" stroke="#484848" stroke-width="1"/><rect x="603.0" y="96.8" width="3" height="2.2" fill="#006000" stroke="#202020" stroke-width="0.5"/><line x1="609.5" y1="86.7" x2="609.5" y2="99.7" stroke="#484848" stroke-width="1"/><rect x="608.0" y="92.4" width="3" height="5.2" fill="#00ff00" stroke="#202020" stroke-width="0.6"/><line x1="614.5" y1="77.8" x2="614.5" y2="101.3" stroke="#484848" stroke-width="1"/><rect x="612.9" y="88.7" width="3.2" height="1.6" fill="#101010"/><line x1="619.5" y1="82.7" x2="619.5" y2="105.4" stroke="#484848" stroke-width="1"/><rect x="618.0" y="90.0" width="3" height="12.9" fill="#ff0000" stroke="#202020" stroke-width="0.6"/><line x1="624.5" y1="73.8" x2="624.5" y2="98.9" stroke="#484848" stroke-width="1"/><rect x="623.0" y="75.4" width="3" height="19.4" fill="#00ff00" stroke="#202020" stroke-width="0.6"/><line x1="629.5" y1="68.1" x2="629.5" y2="111.9" stroke="#484848" stroke-width="1"/><rect x="628.0" y="76.2" width="3" height="24.3" fill="#ff0000" stroke="#202020" stroke-width="0.6"/><line x1="634.5" y1="81.9" x2="634.5" y2="157.8" stroke="#484848" stroke-width="1"/><rect x="633.0" y="99.3" width="3" height="43.1" fill="#ff0000" stroke="#202020" stroke-width="0.6"/><line x1="639.5" y1="85.1" x2="639.5" y2="148.7" stroke="#484848" stroke-width="1"/><rect x="638.0" y="91.1" width="3" height="48.6" fill="#00ff00" stroke="#202020" stroke-width="0.6"/><line x1="644.5" y1="81.9" x2="644.5" y2="124.7" stroke="#484848" stroke-width="1"/><rect x="643.0" y="86.3" width="3" height="15.1" fill="#ff0000" stroke="#202020" stroke-width="0.6"/><line x1="649.5" y1="101.3" x2="649.5" y2="144.5" stroke="#484848" stroke-width="1"/><rect x="648.0" y="103.5" width="3" height="28.5" fill="#ff0000" stroke="#202020" stroke-width="0.6"/><line x1="654.5" y1="103.0" x2="654.5" y2="166.6" stroke="#484848" stroke-width="1"/><rect x="653.0" y="132.3" width="3" height="23.3" fill="#ff0000" stroke="#202020" stroke-width="0.6"/><line x1="659.5" y1="120.0" x2="659.5" y2="152.7" stroke="#484848" stroke-width="1"/><rect x="658.0" y="146.3" width="3" height="3.6" fill="#00ff00" stroke="#202020" stroke-width="0.6"/><line x1="664.5" y1="148.5" x2="664.5" y2="217.9" stroke="#484848" stroke-width="1"/><rect x="663.0" y="155.6" width="3" height="55.9" fill="#ff0000" stroke="#202020" stroke-width="0.6"/><line x1="669.5" y1="186.8" x2="669.5" y2="237.0" stroke="#484848" stroke-width="1"/><rect x="668.0" y="201.4" width="3" height="9.7" fill="#00ff00" stroke="#202020" stroke-width="0.6"/><line x1="674.5" y1="151.4" x2="674.5" y2="199.5" stroke="#484848" stroke-width="1"/><rect x="673.0" y="162.7" width="3" height="32.5" fill="#00ff00" stroke="#202020" stroke-width="0.6"/><line x1="679.5" y1="118.9" x2="679.5" y2="171.4" stroke="#484848" stroke-width="1"/><rect x="678.0" y="125.7" width="3" height="35.6" fill="#00ff00" stroke="#202020" stroke-width="0.6"/><line x1="684.5" y1="113.4" x2="684.5" y2="182.1" stroke="#484848" stroke-width="1"/><rect x="683.0" y="130.1" width="3" height="49.1" fill="#ff0000" stroke="#202020" stroke-width="0.6"/><line x1="689.5" y1="172.4" x2="689.5" y2="226.0" stroke="#484848" stroke-width="1"/><rect x="688.0" y="180.2" width="3" height="44.2" fill="#ff0000" stroke="#202020" stroke-width="0.6"/><line x1="694.5" y1="186.9" x2="694.5" y2="219.9" stroke="#484848" stroke-width="1"/><rect x="693.0" y="193.7" width="3" height="22.9" fill="#00ff00" stroke="#202020" stroke-width="0.6"/><line x1="699.5" y1="162.7" x2="699.5" y2="203.3" stroke="#484848" stroke-width="1"/><rect x="698.0" y="164.0" width="3" height="25.5" fill="#00ff00" stroke="#202020" stroke-width="0.6"/><line x1="704.5" y1="134.5" x2="704.5" y2="170.5" stroke="#484848" stroke-width="1"/><rect x="703.0" y="140.7" width="3" height="25.3" fill="#00ff00" stroke="#202020" stroke-width="0.6"/><line x1="709.5" y1="131.6" x2="709.5" y2="146.1" stroke="#484848" stroke-width="1"/><rect x="708.0" y="141.3" width="3" height="1.5" fill="#ff0000" stroke="#202020" stroke-width="0.6"/><line x1="714.5" y1="137.4" x2="714.5" y2="165.6" stroke="#484848" stroke-width="1"/><rect x="713.0" y="142.8" width="3" height="3.0" fill="#ff0000" stroke="#202020" stroke-width="0.6"/><line x1="719.5" y1="110.2" x2="719.5" y2="147.1" stroke="#484848" stroke-width="1"/><rect x="718.0" y="113.5" width="3" height="31.7" fill="#00ff00" stroke="#202020" stroke-width="0.6"/><line x1="724.5" y1="110.2" x2="724.5" y2="139.3" stroke="#484848" stroke-width="1"/><rect x="723.0" y="114.6" width="3" height="22.8" fill="#ff0000" stroke="#202020" stroke-width="0.6"/><line x1="729.5" y1="134.5" x2="729.5" y2="171.4" stroke="#484848" stroke-width="1"/><rect x="728.0" y="137.4" width="3" height="26.6" fill="#ff0000" stroke="#202020" stroke-width="0.6"/><line x1="734.5" y1="154.9" x2="734.5" y2="240.7" stroke="#484848" stroke-width="1"/><rect x="733.0" y="162.1" width="3" height="38.9" fill="#ff0000" stroke="#202020" stroke-width="0.6"/><line x1="739.5" y1="190.7" x2="739.5" y2="223.8" stroke="#484848" stroke-width="1"/><rect x="738.0" y="197.5" width="3" height="3.9" fill="#00ff00" stroke="#202020" stroke-width="0.6"/><line x1="744.5" y1="194.6" x2="744.5" y2="253.9" stroke="#484848" stroke-width="1"/><rect x="743.0" y="199.1" width="3" height="33.0" fill="#ff0000" stroke="#202020" stroke-width="0.6"/><line x1="749.5" y1="226.3" x2="749.5" y2="311.9" stroke="#484848" stroke-width="1"/><rect x="748.0" y="231.1" width="3" height="74.9" fill="#ff0000" stroke="#202020" stroke-width="0.6"/><line x1="754.5" y1="296.9" x2="754.5" y2="311.9" stroke="#484848" stroke-width="1"/><rect x="752.9" y="300.4" width="3.2" height="1.6" fill="#101010"/></g>
<g><line x1="6.5" y1="501.5" x2="6.5" y2="511.3" stroke="#ff48ff" stroke-width="1"/><line x1="10.5" y1="501.5" x2="10.5" y2="513.7" stroke="#ff48ff" stroke-width="1"/><line x1="15.5" y1="501.5" x2="15.5" y2="512.5" stroke="#ff48ff" stroke-width="1"/><line x1="20.5" y1="501.5" x2="20.5" y2="503.8" stroke="#ff48ff" stroke-width="1"/><line x1="25.5" y1="501.5" x2="25.5" y2="500.0" stroke="#ff48ff" stroke-width="1"/><line x1="30.5" y1="501.5" x2="30.5" y2="503.2" stroke="#ff48ff" stroke-width="1"/><line x1="35.5" y1="501.5" x2="35.5" y2="506.5" stroke="#ff48ff" stroke-width="1"/><line x1="40.5" y1="501.5" x2="40.5" y2="502.9" stroke="#ff48ff" stroke-width="1"/><line x1="50.5" y1="501.5" x2="50.5" y2="495.5" stroke="#ff48ff" stroke-width="1"/><line x1="55.5" y1="501.5" x2="55.5" y2="497.2" stroke="#ff48ff" stroke-width="1"/><line x1="60.5" y1="501.5" x2="60.5" y2="494.4" stroke="#ff48ff" stroke-width="1"/><line x1="65.5" y1="501.5" x2="65.5" y2="493.8" stroke="#ff48ff" stroke-width="1"/><line x1="70.5" y1="501.5" x2="70.5" y2="498.5" stroke="#ff48ff" stroke-width="1"/><line x1="85.5" y1="501.5" x2="85.5" y2="511.3" stroke="#ff48ff" stroke-width="1"/><line x1="90.5" y1="501.5" x2="90.5" y2="513.7" stroke="#ff48ff" stroke-width="1"/><line x1="95.5" y1="501.5" x2="95.5" y2="509.3" stroke="#ff48ff" stroke-width="1"/><line x1="100.5" y1="501.5" x2="100.5" y2="506.8" stroke="#ff48ff" stroke-width="1"/><line x1="105.5" y1="501.5" x2="105.5" y2="505.4" stroke="#ff48ff" stroke-width="1"/><line x1="110.5" y1="501.5" x2="110.5" y2="502.8" stroke="#ff48ff" stroke-width="1"/><line x1="115.5" y1="501.5" x2="115.5" y2="508.3" stroke="#ff48ff" stroke-width="1"/><line x1="120.5" y1="501.5" x2="120.5" y2="509.7" stroke="#ff48ff" stroke-width="1"/><line x1="125.5" y1="501.5" x2="125.5" y2="503.8" stroke="#ff48ff" stroke-width="1"/><line x1="130.5" y1="501.5" x2="130.5" y2="494.2" stroke="#ff48ff" stroke-width="1"/><line x1="135.5" y1="501.5" x2="135.5" y2="489.1" stroke="#ff48ff" stroke-width="1"/><line x1="140.5" y1="501.5" x2="140.5" y2="486.5" stroke="#ff48ff" stroke-width="1"/><line x1="145.5" y1="501.5" x2="145.5" y2="484.6" stroke="#ff48ff" stroke-width="1"/><line x1="150.5" y1="501.5" x2="150.5" y2="484.6" stroke="#ff48ff" stroke-width="1"/><line x1="155.5" y1="501.5" x2="155.5" y2="486.1" stroke="#ff48ff" stroke-width="1"/><line x1="160.5" y1="501.5" x2="160.5" y2="490.7" stroke="#ff48ff" stroke-width="1"/><line x1="165.5" y1="501.5" x2="165.5" y2="495.9" stroke="#ff48ff" stroke-width="1"/><line x1="175.5" y1="501.5" x2="175.5" y2="507.7" stroke="#ff48ff" stroke-width="1"/><line x1="180.5" y1="501.5" x2="180.5" y2="513.0" stroke="#ff48ff" stroke-width="1"/><line x1="185.5" y1="501.5" x2="185.5" y2="510.2" stroke="#ff48ff" stroke-width="1"/><line x1="190.5" y1="501.5" x2="190.5" y2="505.6" stroke="#ff48ff" stroke-width="1"/><line x1="195.5" y1="501.5" x2="195.5" y2="503.0" stroke="#ff48ff" stroke-width="1"/><line x1="200.5" y1="501.5" x2="200.5" y2="504.6" stroke="#ff48ff" stroke-width="1"/><line x1="205.5" y1="501.5" x2="205.5" y2="507.0" stroke="#ff48ff" stroke-width="1"/><line x1="210.5" y1="501.5" x2="210.5" y2="508.8" stroke="#ff48ff" stroke-width="1"/><line x1="215.5" y1="501.5" x2="215.5" y2="506.6" stroke="#ff48ff" stroke-width="1"/><line x1="220.5" y1="501.5" x2="220.5" y2="507.7" stroke="#ff48ff" stroke-width="1"/><line x1="225.5" y1="501.5" x2="225.5" y2="508.4" stroke="#ff48ff" stroke-width="1"/><line x1="230.5" y1="501.5" x2="230.5" y2="502.5" stroke="#ff48ff" stroke-width="1"/><line x1="235.5" y1="501.5" x2="235.5" y2="503.3" stroke="#ff48ff" stroke-width="1"/><line x1="250.5" y1="501.5" x2="250.5" y2="499.6" stroke="#ff48ff" stroke-width="1"/><line x1="255.5" y1="501.5" x2="255.5" y2="497.6" stroke="#ff48ff" stroke-width="1"/><line x1="260.5" y1="501.5" x2="260.5" y2="497.8" stroke="#ff48ff" stroke-width="1"/><line x1="265.5" y1="501.5" x2="265.5" y2="502.3" stroke="#ff48ff" stroke-width="1"/><line x1="270.5" y1="501.5" x2="270.5" y2="513.1" stroke="#ff48ff" stroke-width="1"/><line x1="275.5" y1="501.5" x2="275.5" y2="527.0" stroke="#ff48ff" stroke-width="1"/><line x1="280.5" y1="501.5" x2="280.5" y2="551.0" stroke="#ff48ff" stroke-width="1"/><line x1="285.5" y1="501.5" x2="285.5" y2="555.1" stroke="#ff48ff" stroke-width="1"/><line x1="290.5" y1="501.5" x2="290.5" y2="532.2" stroke="#ff48ff" stroke-width="1"/><line x1="295.5" y1="501.5" x2="295.5" y2="507.2" stroke="#ff48ff" stroke-width="1"/><line x1="300.5" y1="501.5" x2="300.5" y2="495.4" stroke="#ff48ff" stroke-width="1"/><line x1="305.5" y1="501.5" x2="305.5" y2="493.8" stroke="#ff48ff" stroke-width="1"/><line x1="310.5" y1="501.5" x2="310.5" y2="503.9" stroke="#ff48ff" stroke-width="1"/><line x1="315.5" y1="501.5" x2="315.5" y2="498.6" stroke="#ff48ff" stroke-width="1"/><line x1="320.5" y1="501.5" x2="320.5" y2="495.1" stroke="#ff48ff" stroke-width="1"/><line x1="325.5" y1="501.5" x2="325.5" y2="496.2" stroke="#ff48ff" stroke-width="1"/><line x1="330.5" y1="501.5" x2="330.5" y2="486.6" stroke="#ff48ff" stroke-width="1"/><line x1="335.5" y1="501.5" x2="335.5" y2="486.1" stroke="#ff48ff" stroke-width="1"/><line x1="340.5" y1="501.5" x2="340.5" y2="484.2" stroke="#ff48ff" stroke-width="1"/><line x1="345.5" y1="501.5" x2="345.5" y2="483.0" stroke="#ff48ff" stroke-width="1"/><line x1="350.5" y1="501.5" x2="350.5" y2="484.0" stroke="#ff48ff" stroke-width="1"/><line x1="355.5" y1="501.5" x2="355.5" y2="479.3" stroke="#ff48ff" stroke-width="1"/><line x1="360.5" y1="501.5" x2="360.5" y2="476.5" stroke="#ff48ff" stroke-width="1"/><line x1="365.5" y1="501.5" x2="365.5" y2="482.0" stroke="#ff48ff" stroke-width="1"/><line x1="370.5" y1="501.5" x2="370.5" y2="492.5" stroke="#ff48ff" stroke-width="1"/><line x1="375.5" y1="501.5" x2="375.5" y2="494.6" stroke="#ff48ff" stroke-width="1"/><line x1="380.5" y1="501.5" x2="380.5" y2="503.2" stroke="#ff48ff" stroke-width="1"/><line x1="385.5" y1="501.5" x2="385.5" y2="506.4" stroke="#ff48ff" stroke-width="1"/><line x1="390.5" y1="501.5" x2="390.5" y2="509.6" stroke="#ff48ff" stroke-width="1"/><line x1="395.5" y1="501.5" x2="395.5" y2="509.7" stroke="#ff48ff" stroke-width="1"/><line x1="400.5" y1="501.5" x2="400.5" y2="518.9" stroke="#ff48ff" stroke-width="1"/><line x1="405.5" y1="501.5" x2="405.5" y2="519.5" stroke="#ff48ff" stroke-width="1"/><line x1="410.5" y1="501.5" x2="410.5" y2="510.6" stroke="#ff48ff" stroke-width="1"/><line x1="415.5" y1="501.5" x2="415.5" y2="499.7" stroke="#ff48ff" stroke-width="1"/><line x1="420.5" y1="501.5" x2="420.5" y2="488.6" stroke="#ff48ff" stroke-width="1"/><line x1="424.5" y1="501.5" x2="424.5" y2="483.8" stroke="#ff48ff" stroke-width="1"/><line x1="429.5" y1="501.5" x2="429.5" y2="481.5" stroke="#ff48ff" stroke-width="1"/><line x1="434.5" y1="501.5" x2="434.5" y2="478.0" stroke="#ff48ff" stroke-width="1"/><line x1="439.5" y1="501.5" x2="439.5" y2="476.2" stroke="#ff48ff" stroke-width="1"/><line x1="444.5" y1="501.5" x2="444.5" y2="477.4" stroke="#ff48ff" stroke-width="1"/><line x1="449.5" y1="501.5" x2="449.5" y2="479.7" stroke="#ff48ff" stroke-width="1"/><line x1="454.5" y1="501.5" x2="454.5" y2="487.1" stroke="#ff48ff" stroke-width="1"/><line x1="459.5" y1="501.5" x2="459.5" y2="495.6" stroke="#ff48ff" stroke-width="1"/><line x1="464.5" y1="501.5" x2="464.5" y2="492.4" stroke="#ff48ff" stroke-width="1"/><line x1="469.5" y1="501.5" x2="469.5" y2="491.6" stroke="#ff48ff" stroke-width="1"/><line x1="474.5" y1="501.5" x2="474.5" y2="494.0" stroke="#ff48ff" stroke-width="1"/><line x1="479.5" y1="501.5" x2="479.5" y2="499.6" stroke="#ff48ff" stroke-width="1"/><line x1="484.5" y1="501.5" x2="484.5" y2="506.2" stroke="#ff48ff" stroke-width="1"/><line x1="489.5" y1="501.5" x2="489.5" y2="500.8" stroke="#ff48ff" stroke-width="1"/><line x1="494.5" y1="501.5" x2="494.5" y2="496.5" stroke="#ff48ff" stroke-width="1"/><line x1="499.5" y1="501.5" x2="499.5" y2="498.8" stroke="#ff48ff" stroke-width="1"/><line x1="509.5" y1="501.5" x2="509.5" y2="497.9" stroke="#ff48ff" stroke-width="1"/><line x1="514.5" y1="501.5" x2="514.5" y2="499.1" stroke="#ff48ff" stroke-width="1"/><line x1="519.5" y1="501.5" x2="519.5" y2="503.9" stroke="#ff48ff" stroke-width="1"/><line x1="529.5" y1="501.5" x2="529.5" y2="499.7" stroke="#ff48ff" stroke-width="1"/><line x1="534.5" y1="501.5" x2="534.5" y2="502.4" stroke="#ff48ff" stroke-width="1"/><line x1="539.5" y1="501.5" x2="539.5" y2="505.5" stroke="#ff48ff" stroke-width="1"/><line x1="544.5" y1="501.5" x2="544.5" y2="507.7" stroke="#ff48ff" stroke-width="1"/><line x1="549.5" y1="501.5" x2="549.5" y2="512.5" stroke="#ff48ff" stroke-width="1"/><line x1="554.5" y1="501.5" x2="554.5" y2="514.4" stroke="#ff48ff" stroke-width="1"/><line x1="559.5" y1="501.5" x2="559.5" y2="515.2" stroke="#ff48ff" stroke-width="1"/><line x1="564.5" y1="501.5" x2="564.5" y2="521.9" stroke="#ff48ff" stroke-width="1"/><line x1="569.5" y1="501.5" x2="569.5" y2="528.3" stroke="#ff48ff" stroke-width="1"/><line x1="574.5" y1="501.5" x2="574.5" y2="522.2" stroke="#ff48ff" stroke-width="1"/><line x1="579.5" y1="501.5" x2="579.5" y2="516.3" stroke="#ff48ff" stroke-width="1"/><line x1="584.5" y1="501.5" x2="584.5" y2="506.9" stroke="#ff48ff" stroke-width="1"/><line x1="594.5" y1="501.5" x2="594.5" y2="496.5" stroke="#ff48ff" stroke-width="1"/><line x1="599.5" y1="501.5" x2="599.5" y2="496.6" stroke="#ff48ff" stroke-width="1"/><line x1="604.5" y1="501.5" x2="604.5" y2="496.7" stroke="#ff48ff" stroke-width="1"/><line x1="609.5" y1="501.5" x2="609.5" y2="496.2" stroke="#ff48ff" stroke-width="1"/><line x1="614.5" y1="501.5" x2="614.5" y2="495.6" stroke="#ff48ff" stroke-width="1"/><line x1="619.5" y1="501.5" x2="619.5" y2="499.0" stroke="#ff48ff" stroke-width="1"/><line x1="624.5" y1="501.5" x2="624.5" y2="495.1" stroke="#ff48ff" stroke-width="1"/><line x1="629.5" y1="501.5" x2="629.5" y2="498.8" stroke="#ff48ff" stroke-width="1"/><line x1="634.5" y1="501.5" x2="634.5" y2="508.0" stroke="#ff48ff" stroke-width="1"/><line x1="639.5" y1="501.5" x2="639.5" y2="503.0" stroke="#ff48ff" stroke-width="1"/><line x1="649.5" y1="501.5" x2="649.5" y2="506.7" stroke="#ff48ff" stroke-width="1"/><line x1="654.5" y1="501.5" x2="654.5" y2="513.6" stroke="#ff48ff" stroke-width="1"/><line x1="659.5" y1="501.5" x2="659.5" y2="513.1" stroke="#ff48ff" stroke-width="1"/><line x1="664.5" y1="501.5" x2="664.5" y2="521.7" stroke="#ff48ff" stroke-width="1"/><line x1="669.5" y1="501.5" x2="669.5" y2="521.3" stroke="#ff48ff" stroke-width="1"/><line x1="674.5" y1="501.5" x2="674.5" y2="512.4" stroke="#ff48ff" stroke-width="1"/><line x1="679.5" y1="501.5" x2="679.5" y2="500.5" stroke="#ff48ff" stroke-width="1"/><line x1="684.5" y1="501.5" x2="684.5" y2="503.9" stroke="#ff48ff" stroke-width="1"/><line x1="689.5" y1="501.5" x2="689.5" y2="510.9" stroke="#ff48ff" stroke-width="1"/><line x1="694.5" y1="501.5" x2="694.5" y2="507.5" stroke="#ff48ff" stroke-width="1"/><line x1="699.5" y1="501.5" x2="699.5" y2="500.2" stroke="#ff48ff" stroke-width="1"/><line x1="704.5" y1="501.5" x2="704.5" y2="492.0" stroke="#ff48ff" stroke-width="1"/><line x1="709.5" y1="501.5" x2="709.5" y2="489.7" stroke="#ff48ff" stroke-width="1"/><line x1="714.5" y1="501.5" x2="714.5" y2="490.4" stroke="#ff48ff" stroke-width="1"/><line x1="719.5" y1="501.5" x2="719.5" y2="485.5" stroke="#ff48ff" stroke-width="1"/><line x1="724.5" y1="501.5" x2="724.5" y2="488.7" stroke="#ff48ff" stroke-width="1"/><line x1="729.5" y1="501.5" x2="729.5" y2="494.9" stroke="#ff48ff" stroke-width="1"/><line x1="734.5" y1="501.5" x2="734.5" y2="503.9" stroke="#ff48ff" stroke-width="1"/><line x1="739.5" y1="501.5" x2="739.5" y2="507.5" stroke="#ff48ff" stroke-width="1"/><line x1="744.5" y1="501.5" x2="744.5" y2="513.7" stroke="#ff48ff" stroke-width="1"/><line x1="749.5" y1="501.5" x2="749.5" y2="525.1" stroke="#ff48ff" stroke-width="1"/><line x1="754.5" y1="501.5" x2="754.5" y2="527.7" stroke="#ff48ff" stroke-width="1"/></g>
<line x1="2" y1="501.5" x2="1066" y2="501.5" stroke="#404040" stroke-width="1.2"/>
<polyline points="6.0,498.4 11.0,499.2 16.0,500.1 21.0,501.0 26.0,501.7 30.9,502.5 35.9,503.2 40.9,503.7 45.9,504.2 50.9,503.8 55.9,503.5 60.9,503.1 65.9,502.4 70.8,501.7 75.8,501.6 80.8,501.9 85.8,502.6 90.8,503.3 95.8,503.6 100.8,504.0 105.8,504.3 110.7,504.7 115.7,505.0 120.7,505.4 125.7,505.5 130.7,505.1 135.7,504.7 140.7,504.3 145.7,503.8 150.7,503.3 155.6,502.3 160.6,501.4 165.6,500.7 170.6,499.9 175.6,499.4 180.6,499.1 185.6,498.7 190.6,497.9 195.5,497.2 200.5,496.6 205.5,496.0 210.5,496.6 215.5,497.3 220.5,498.4 225.5,499.4 230.5,500.4 235.4,501.4 240.4,502.2 245.4,502.7 250.4,502.5 255.4,502.3 260.4,502.1 265.4,502.5 270.4,503.5 275.4,505.9 280.3,509.2 285.3,512.8 290.3,515.3 295.3,516.7 300.3,517.6 305.3,518.2 310.3,519.0 315.3,519.8 320.2,520.6 325.2,521.3 330.2,521.8 335.2,522.3 340.2,522.4 345.2,522.3 350.2,521.7 355.2,520.0 360.1,516.5 365.1,512.4 370.1,508.7 375.1,506.5 380.1,506.1 385.1,505.7 390.1,505.1 395.1,505.4 400.1,505.9 405.0,506.6 410.0,506.9 415.0,506.9 420.0,506.2 425.0,505.2 430.0,504.2 435.0,503.2 440.0,501.9 444.9,500.6 449.9,499.6 454.9,498.6 459.9,497.4 464.9,496.0 469.9,494.5 474.9,492.6 479.9,490.6 484.8,488.6 489.8,486.7 494.8,485.2 499.8,484.1 504.8,483.9 509.8,483.8 514.8,483.8 519.8,484.0 524.8,484.2 529.7,484.2 534.7,484.2 539.7,484.7 544.7,485.2 549.7,485.9 554.7,486.8 559.7,487.8 564.7,489.2 569.6,491.0 574.6,492.9 579.6,494.9 584.6,496.0 589.6,497.1 594.6,497.9 599.6,498.5 604.6,498.9 609.5,499.5 614.5,500.1 619.5,500.3 624.5,500.5 629.5,500.5 634.5,500.5 639.5,500.0 644.5,499.5 649.5,499.0 654.4,499.0 659.4,499.5 664.4,500.7 669.4,502.2 674.4,503.2 679.4,504.2 684.4,505.4 689.4,506.6 694.3,507.6 699.3,508.2 704.3,508.2 709.3,507.8 714.3,507.1 719.3,506.5 724.3,506.0 729.3,506.2 734.2,506.4 739.2,506.4 744.2,506.5 749.2,507.0 754.2,507.5" fill="none" stroke="#ff2020" stroke-width="0.95"/>
<polyline points="6.0,508.2 11.0,511.5 16.0,511.1 21.0,503.3 26.0,500.2 30.9,504.2 35.9,508.2 40.9,505.1 45.9,503.8 50.9,497.8 55.9,499.3 60.9,496.0 65.9,494.7 70.8,498.7 75.8,501.5 80.8,502.0 85.8,512.4 90.8,515.5 95.8,511.5 100.8,509.3 105.8,508.2 110.7,506.0 115.7,511.8 120.7,513.6 125.7,507.8 130.7,497.8 135.7,492.4 140.7,489.3 145.7,486.9 150.7,486.4 155.6,486.9 160.6,490.5 165.6,495.1 170.6,499.6 175.6,505.6 180.6,510.5 185.6,507.5 190.6,502.0 195.5,498.7 200.5,499.6 205.5,501.5 210.5,503.8 215.5,502.4 220.5,504.5 225.5,506.4 230.5,501.5 235.4,503.3 240.4,502.4 245.4,502.9 250.4,500.5 255.4,498.4 260.4,498.4 265.4,503.3 270.4,515.1 275.4,531.5 280.3,558.7 285.3,566.4 290.3,546.0 295.3,522.4 300.3,511.5 305.3,510.5 310.3,521.5 315.3,516.9 320.2,514.2 325.2,516.0 330.2,506.9 335.2,506.9 340.2,505.1 345.2,503.8 350.2,504.2 355.2,497.8 360.1,491.5 365.1,492.9 370.1,499.6 375.1,499.6 380.1,507.8 385.1,510.5 390.1,513.3 395.1,513.6 400.1,523.3 405.0,524.5 410.0,516.0 415.0,505.1 420.0,493.3 425.0,487.5 430.0,484.2 435.0,479.6 440.0,476.5 444.9,476.5 449.9,477.8 454.9,484.2 459.9,491.5 464.9,486.9 469.9,484.5 474.9,485.1 479.9,488.7 484.8,493.3 489.8,486.0 494.8,480.2 499.8,481.5 504.8,483.8 509.8,480.2 514.8,481.5 519.8,486.4 524.8,484.2 529.7,482.4 534.7,485.1 539.7,488.7 544.7,491.5 549.7,496.9 554.7,499.6 559.7,501.5 564.7,509.6 569.6,517.8 574.6,513.6 579.6,509.6 584.6,501.5 589.6,496.9 594.6,492.9 599.6,493.6 604.6,494.2 609.5,494.2 614.5,494.2 619.5,497.8 624.5,494.2 629.5,497.8 634.5,506.9 639.5,501.5 644.5,499.6 649.5,504.2 654.4,511.1 659.4,511.1 664.4,520.9 669.4,522.0 674.4,514.2 679.4,503.3 684.4,507.8 689.4,516.0 694.3,513.6 699.3,506.9 704.3,498.7 709.3,496.0 714.3,496.0 719.3,490.5 724.3,493.3 729.3,499.6 734.2,508.7 739.2,512.4 744.2,518.7 749.2,530.5 754.2,533.6" fill="none" stroke="#2020ff" stroke-width="0.95"/>
<rect x="2" y="467" width="1064" height="2.2" fill="#a8a8a8"/>
<rect x="1065.5" y="19" width="1.6" height="564.5" fill="#808080"/>
<text x="1067.2" y="44.8" font-family="Liberation Sans, Arial, sans-serif" font-size="9.8" fill="#000" stroke="#000" stroke-width="0.25" textLength="29" lengthAdjust="spacingAndGlyphs">212500</text><text x="1067.2" y="79.4" font-family="Liberation Sans, Arial, sans-serif" font-size="9.8" fill="#000" stroke="#000" stroke-width="0.25" textLength="29" lengthAdjust="spacingAndGlyphs">210000</text><text x="1067.2" y="114.0" font-family="Liberation Sans, Arial, sans-serif" font-size="9.8" fill="#000" stroke="#000" stroke-width="0.25" textLength="29" lengthAdjust="spacingAndGlyphs">207500</text><text x="1067.2" y="148.5" font-family="Liberation Sans, Arial, sans-serif" font-size="9.8" fill="#000" stroke="#000" stroke-width="0.25" textLength="29" lengthAdjust="spacingAndGlyphs">205000</text><text x="1067.2" y="183.1" font-family="Liberation Sans, Arial, sans-serif" font-size="9.8" fill="#000" stroke="#000" stroke-width="0.25" textLength="29" lengthAdjust="spacingAndGlyphs">202500</text><text x="1067.2" y="217.7" font-family="Liberation Sans, Arial, sans-serif" font-size="9.8" fill="#000" stroke="#000" stroke-width="0.25" textLength="29" lengthAdjust="spacingAndGlyphs">200000</text><text x="1067.2" y="252.3" font-family="Liberation Sans, Arial, sans-serif" font-size="9.8" fill="#000" stroke="#000" stroke-width="0.25" textLength="29" lengthAdjust="spacingAndGlyphs">197500</text><text x="1067.2" y="286.9" font-family="Liberation Sans, Arial, sans-serif" font-size="9.8" fill="#000" stroke="#000" stroke-width="0.25" textLength="29" lengthAdjust="spacingAndGlyphs">195000</text><text x="1067.2" y="321.4" font-family="Liberation Sans, Arial, sans-serif" font-size="9.8" fill="#000" stroke="#000" stroke-width="0.25" textLength="29" lengthAdjust="spacingAndGlyphs">192500</text><text x="1067.2" y="356.0" font-family="Liberation Sans, Arial, sans-serif" font-size="9.8" fill="#000" stroke="#000" stroke-width="0.25" textLength="29" lengthAdjust="spacingAndGlyphs">190000</text><text x="1067.2" y="390.6" font-family="Liberation Sans, Arial, sans-serif" font-size="9.8" fill="#000" stroke="#000" stroke-width="0.25" textLength="29" lengthAdjust="spacingAndGlyphs">187500</text><text x="1067.2" y="425.2" font-family="Liberation Sans, Arial, sans-serif" font-size="9.8" fill="#000" stroke="#000" stroke-width="0.25" textLength="29" lengthAdjust="spacingAndGlyphs">185000</text><text x="1067.2" y="459.8" font-family="Liberation Sans, Arial, sans-serif" font-size="9.8" fill="#000" stroke="#000" stroke-width="0.25" textLength="29" lengthAdjust="spacingAndGlyphs">182500</text><text x="1067" y="503.0" font-family="Liberation Sans, Arial, sans-serif" font-size="9.2" fill="#000" stroke="#000" stroke-width="0.3">0</text><text x="1067" y="541.8" font-family="Liberation Sans, Arial, sans-serif" font-size="9.2" fill="#000" stroke="#000" stroke-width="0.3">-50</text>
<rect x="1066.5" y="146.6" width="31" height="10" fill="#0000ff"/><text x="1067.2" y="155.1" font-family="Liberation Sans, Arial, sans-serif" font-size="9.8" fill="#fff" stroke="#fff" stroke-width="0.3" textLength="29" lengthAdjust="spacingAndGlyphs">204556</text>
<rect x="1066.5" y="185.2" width="31" height="10.5" fill="#ff0000"/><text x="1067.2" y="194.2" font-family="Liberation Sans, Arial, sans-serif" font-size="9.8" fill="#fff" stroke="#fff" stroke-width="0.3" textLength="29" lengthAdjust="spacingAndGlyphs">201705</text>
<rect x="1066.5" y="214.8" width="31" height="11" fill="#800000"/><text x="1067.2" y="224.3" font-family="Liberation Sans, Arial, sans-serif" font-size="9.8" fill="#fff" stroke="#fff" stroke-width="0.3" textLength="29" lengthAdjust="spacingAndGlyphs">199532</text>
<rect x="1066.5" y="296.7" width="31" height="10.5" fill="#ff0000"/><text x="1067.2" y="305.7" font-family="Liberation Sans, Arial, sans-serif" font-size="9.8" fill="#fff" stroke="#fff" stroke-width="0.3" textLength="29" lengthAdjust="spacingAndGlyphs">193625</text>
<rect x="1066.5" y="340.5" width="31" height="10" fill="#ff8030"/><text x="1067.2" y="349.0" font-family="Liberation Sans, Arial, sans-serif" font-size="9.8" fill="#fff" stroke="#fff" stroke-width="0.3" textLength="29" lengthAdjust="spacingAndGlyphs">190439</text>
<rect x="1066.5" y="501.6" width="20.6" height="11.2" fill="#ff0000"/><text x="1067.2" y="511.3" font-family="Liberation Sans, Arial, sans-serif" font-size="9.8" fill="#fff" stroke="#fff" stroke-width="0.3" textLength="19.5" lengthAdjust="spacingAndGlyphs">-9.07</text>
<rect x="1066.5" y="520.2" width="25.6" height="10.4" fill="#ff00ff"/><text x="1067.2" y="529.1" font-family="Liberation Sans, Arial, sans-serif" font-size="9.8" fill="#fff" stroke="#fff" stroke-width="0.3" textLength="24.5" lengthAdjust="spacingAndGlyphs">-34.16</text>
<rect x="1066.5" y="527.6" width="25.6" height="10.8" fill="#0000ff"/><text x="1067.2" y="536.9" font-family="Liberation Sans, Arial, sans-serif" font-size="9.8" fill="#fff" stroke="#fff" stroke-width="0.3" textLength="24.5" lengthAdjust="spacingAndGlyphs">-43.23</text>
<text x="833.5" y="226.3" font-family="Liberation Sans, Arial, sans-serif" font-size="10" font-weight="bold" fill="#000" textLength="55.5" lengthAdjust="spacingAndGlyphs">1995.50-1992</text>
<text x="898.8" y="390.2" font-family="Liberation Sans, Arial, sans-serif" font-size="10" font-weight="bold" fill="#000" textLength="42" lengthAdjust="spacingAndGlyphs">1888-1860</text>
<text x="3" y="464.5" font-family="Liberation Sans, Arial, sans-serif" font-size="6.6" font-weight="bold" fill="#101010" textLength="38.5" lengthAdjust="spacingAndGlyphs">© eSignal, 2011</text>
<text x="1.8" y="28.5" font-family="Liberation Sans, Arial, sans-serif" font-size="9.6" fill="#0a0a28" stroke="#0a0a28" stroke-width="0.4" textLength="117.5" lengthAdjust="spacingAndGlyphs">(ES #F - E-MINI S&amp;P 500,D)</text>
<text x="2.2" y="39.6" font-family="Liberation Sans, Arial, sans-serif" font-size="9.1" font-weight="bold" fill="#800000" textLength="44" lengthAdjust="spacingAndGlyphs">MA(10,C)e</text>
<text x="2.2" y="51.1" font-family="Liberation Sans, Arial, sans-serif" font-size="9.1" font-weight="bold" fill="#ff0000" textLength="44" lengthAdjust="spacingAndGlyphs">MA(20,C)e</text>
<text x="2.2" y="62.4" font-family="Liberation Sans, Arial, sans-serif" font-size="9.1" font-weight="bold" fill="#0000ff" textLength="43" lengthAdjust="spacingAndGlyphs">MA(40,C)s</text>
<text x="2" y="480.4" font-family="Liberation Sans, Arial, sans-serif" font-size="9.1" font-weight="bold" fill="#0000ff" textLength="72" lengthAdjust="spacingAndGlyphs">MACD(3,10,16,C)</text>
<rect x="120" y="21" width="214" height="9.6" fill="#c0c0c0"/>
<rect x="292" y="21" width="42" height="9.6" fill="#00ff00"/>
<line x1="120" y1="30.9" x2="334.5" y2="30.9" stroke="#808080" stroke-width="1"/><line x1="334.3" y1="21" x2="334.3" y2="31.3" stroke="#808080" stroke-width="1"/>
<text x="123.5" y="28.6" font-family="Liberation Sans, Arial, sans-serif" font-size="8.2" font-weight="bold" fill="#202028" textLength="35.5" lengthAdjust="spacingAndGlyphs">O: 193650</text><text x="167" y="28.6" font-family="Liberation Sans, Arial, sans-serif" font-size="8.2" font-weight="bold" fill="#202028" textLength="35" lengthAdjust="spacingAndGlyphs">H: 193975</text><text x="210.4" y="28.6" font-family="Liberation Sans, Arial, sans-serif" font-size="8.2" font-weight="bold" fill="#202028" textLength="33.8" lengthAdjust="spacingAndGlyphs">L: 192850</text><text x="251.8" y="28.6" font-family="Liberation Sans, Arial, sans-serif" font-size="8.2" font-weight="bold" fill="#202028" textLength="35.2" lengthAdjust="spacingAndGlyphs">C: 193625</text><text x="295" y="28.6" font-family="Liberation Sans, Arial, sans-serif" font-size="8.2" font-weight="bold" fill="#202028" textLength="32" lengthAdjust="spacingAndGlyphs">Net: +325</text>
<rect x="2" y="571.6" width="1063" height="11.2" fill="#ebebeb"/>
<line x1="2" y1="571.2" x2="466" y2="571.2" stroke="#c0c0c0" stroke-width="1.1"/><line x1="466" y1="571.2" x2="1066" y2="571.2" stroke="#585858" stroke-width="1.1"/>
<rect x="2.8" y="572.3" width="9" height="10" fill="#e4e4e4" stroke="#808080" stroke-width="0.8"/><path d="M9 574.3 L5.5 577.3 L9 580.3Z" fill="#000"/>
<rect x="13.3" y="572.3" width="9.7" height="10" fill="#e4e4e4" stroke="#808080" stroke-width="0.8"/><path d="M16.5 574.3 L20 577.3 L16.5 580.3Z" fill="#000"/>
<path d="M93 571 L98.5 582.6 L167.5 582.6 L173.0 571" fill="#ececec" stroke="#303030" stroke-width="0.9"/>
<text x="100" y="580.6" font-family="Liberation Sans, Arial, sans-serif" font-size="9" fill="#303030" textLength="66" lengthAdjust="spacingAndGlyphs">Stochastic(14(1),3)</text>
<path d="M167.5 571 L173.0 582.6 L273 582.6 L278.5 571" fill="#ececec" stroke="#303030" stroke-width="0.9"/>
<text x="173.8" y="580.6" font-family="Liberation Sans, Arial, sans-serif" font-size="9" fill="#303030" textLength="97.39999999999998" lengthAdjust="spacingAndGlyphs">Directional Movement(14,14)</text>
<path d="M273 571 L278.5 582.6 L362.5 582.6 L368.0 571" fill="#ececec" stroke="#303030" stroke-width="0.9"/>
<text x="278.8" y="580.6" font-family="Liberation Sans, Arial, sans-serif" font-size="9" fill="#303030" textLength="81.19999999999999" lengthAdjust="spacingAndGlyphs">Preferred Stochastic(,,)</text>
<path d="M362.5 571 L368.0 582.6 L394.5 582.6 L400.0 571" fill="#ececec" stroke="#303030" stroke-width="0.9"/>
<text x="367.5" y="580.6" font-family="Liberation Sans, Arial, sans-serif" font-size="9" fill="#303030" textLength="24.5" lengthAdjust="spacingAndGlyphs">Volume</text>
<path d="M394.5 571 L400.0 582.6 L461 582.6 L466.5 571" fill="#ececec" stroke="#303030" stroke-width="0.9"/>
<text x="400" y="580.6" font-family="Liberation Sans, Arial, sans-serif" font-size="9" fill="#303030" textLength="60" lengthAdjust="spacingAndGlyphs">MACD(12,26,9,C)</text>
<path d="M25 571 L30.5 582.6 L93 582.6 L98.5 571" fill="#ffffff" stroke="#303030" stroke-width="0.9"/>
<line x1="25.6" y1="570.7" x2="98" y2="570.7" stroke="#fff" stroke-width="1.4"/>
<text x="32.5" y="580.6" font-family="Liberation Sans, Arial, sans-serif" font-size="9" fill="#303030" textLength="60.0" lengthAdjust="spacingAndGlyphs">MACD(3,10,16,C)</text>
<line x1="11.5" y1="584" x2="11.5" y2="585" stroke="#a8a8a8" stroke-width="1"/><text x="9.5" y="592.8" font-family="Liberation Sans, Arial, sans-serif" font-size="10" font-weight="bold" fill="#202020">08</text><line x1="36.5" y1="584" x2="36.5" y2="585" stroke="#a8a8a8" stroke-width="1"/><text x="34.4" y="592.8" font-family="Liberation Sans, Arial, sans-serif" font-size="10" font-weight="bold" fill="#202020">15</text><line x1="61.5" y1="584" x2="61.5" y2="585" stroke="#a8a8a8" stroke-width="1"/><text x="59.4" y="592.8" font-family="Liberation Sans, Arial, sans-serif" font-size="10" font-weight="bold" fill="#202020">22</text><line x1="86.5" y1="584" x2="86.5" y2="585" stroke="#a8a8a8" stroke-width="1"/><text x="84.3" y="592.8" font-family="Liberation Sans, Arial, sans-serif" font-size="10" font-weight="bold" fill="#202020">29</text><line x1="106.5" y1="584" x2="106.5" y2="585" stroke="#a8a8a8" stroke-width="1"/><text x="104.3" y="592.8" font-family="Liberation Sans, Arial, sans-serif" font-size="10" font-weight="bold" fill="#202020">06</text><line x1="131.5" y1="584" x2="131.5" y2="585" stroke="#a8a8a8" stroke-width="1"/><text x="129.2" y="592.8" font-family="Liberation Sans, Arial, sans-serif" font-size="10" font-weight="bold" fill="#202020">13</text><line x1="156.5" y1="584" x2="156.5" y2="585" stroke="#a8a8a8" stroke-width="1"/><text x="154.1" y="592.8" font-family="Liberation Sans, Arial, sans-serif" font-size="10" font-weight="bold" fill="#202020">20</text><line x1="181.5" y1="584" x2="181.5" y2="585" stroke="#a8a8a8" stroke-width="1"/><text x="179.1" y="592.8" font-family="Liberation Sans, Arial, sans-serif" font-size="10" font-weight="bold" fill="#202020">27</text><line x1="206.5" y1="584" x2="206.5" y2="585" stroke="#a8a8a8" stroke-width="1"/><text x="204.0" y="592.8" font-family="Liberation Sans, Arial, sans-serif" font-size="10" font-weight="bold" fill="#202020">03</text><line x1="230.5" y1="584" x2="230.5" y2="585" stroke="#a8a8a8" stroke-width="1"/><text x="229.0" y="592.8" font-family="Liberation Sans, Arial, sans-serif" font-size="10" font-weight="bold" fill="#202020">10</text><line x1="255.5" y1="584" x2="255.5" y2="585" stroke="#a8a8a8" stroke-width="1"/><text x="253.9" y="592.8" font-family="Liberation Sans, Arial, sans-serif" font-size="10" font-weight="bold" fill="#202020">17</text><line x1="280.5" y1="584" x2="280.5" y2="585" stroke="#a8a8a8" stroke-width="1"/><text x="278.8" y="592.8" font-family="Liberation Sans, Arial, sans-serif" font-size="10" font-weight="bold" fill="#202020">24</text><line x1="305.5" y1="584" x2="305.5" y2="585" stroke="#a8a8a8" stroke-width="1"/><text x="303.8" y="592.8" font-family="Liberation Sans, Arial, sans-serif" font-size="10" font-weight="bold" fill="#202020">31</text><line x1="330.5" y1="584" x2="330.5" y2="585" stroke="#a8a8a8" stroke-width="1"/><text x="328.7" y="592.8" font-family="Liberation Sans, Arial, sans-serif" font-size="10" font-weight="bold" fill="#202020">08</text><line x1="350.5" y1="584" x2="350.5" y2="585" stroke="#a8a8a8" stroke-width="1"/><text x="348.7" y="592.8" font-family="Liberation Sans, Arial, sans-serif" font-size="10" font-weight="bold" fill="#202020">14</text><line x1="375.5" y1="584" x2="375.5" y2="585" stroke="#a8a8a8" stroke-width="1"/><text x="373.6" y="592.8" font-family="Liberation Sans, Arial, sans-serif" font-size="10" font-weight="bold" fill="#202020">21</text><line x1="400.5" y1="584" x2="400.5" y2="585" stroke="#a8a8a8" stroke-width="1"/><text x="398.6" y="592.8" font-family="Liberation Sans, Arial, sans-serif" font-size="10" font-weight="bold" fill="#202020">28</text><line x1="425.5" y1="584" x2="425.5" y2="585" stroke="#a8a8a8" stroke-width="1"/><text x="423.5" y="592.8" font-family="Liberation Sans, Arial, sans-serif" font-size="10" font-weight="bold" fill="#202020">05</text><line x1="450.5" y1="584" x2="450.5" y2="585" stroke="#a8a8a8" stroke-width="1"/><text x="448.4" y="592.8" font-family="Liberation Sans, Arial, sans-serif" font-size="10" font-weight="bold" fill="#202020">12</text><line x1="475.5" y1="584" x2="475.5" y2="585" stroke="#a8a8a8" stroke-width="1"/><text x="473.4" y="592.8" font-family="Liberation Sans, Arial, sans-serif" font-size="10" font-weight="bold" fill="#202020">19</text><line x1="500.5" y1="584" x2="500.5" y2="585" stroke="#a8a8a8" stroke-width="1"/><text x="498.3" y="592.8" font-family="Liberation Sans, Arial, sans-serif" font-size="10" font-weight="bold" fill="#202020">26</text><line x1="525.5" y1="584" x2="525.5" y2="585" stroke="#a8a8a8" stroke-width="1"/><text x="523.3" y="592.8" font-family="Liberation Sans, Arial, sans-serif" font-size="10" font-weight="bold" fill="#202020">02</text><line x1="550.5" y1="584" x2="550.5" y2="585" stroke="#a8a8a8" stroke-width="1"/><text x="548.2" y="592.8" font-family="Liberation Sans, Arial, sans-serif" font-size="10" font-weight="bold" fill="#202020">09</text><line x1="575.5" y1="584" x2="575.5" y2="585" stroke="#a8a8a8" stroke-width="1"/><text x="573.1" y="592.8" font-family="Liberation Sans, Arial, sans-serif" font-size="10" font-weight="bold" fill="#202020">16</text><line x1="600.5" y1="584" x2="600.5" y2="585" stroke="#a8a8a8" stroke-width="1"/><text x="598.1" y="592.8" font-family="Liberation Sans, Arial, sans-serif" font-size="10" font-weight="bold" fill="#202020">23</text><line x1="620.5" y1="584" x2="620.5" y2="585" stroke="#a8a8a8" stroke-width="1"/><text x="618.0" y="592.8" font-family="Liberation Sans, Arial, sans-serif" font-size="10" font-weight="bold" fill="#202020">30</text><line x1="644.5" y1="584" x2="644.5" y2="585" stroke="#a8a8a8" stroke-width="1"/><text x="643.0" y="592.8" font-family="Liberation Sans, Arial, sans-serif" font-size="10" font-weight="bold" fill="#202020">07</text><line x1="669.5" y1="584" x2="669.5" y2="585" stroke="#a8a8a8" stroke-width="1"/><text x="667.9" y="592.8" font-family="Liberation Sans, Arial, sans-serif" font-size="10" font-weight="bold" fill="#202020">14</text><line x1="694.5" y1="584" x2="694.5" y2="585" stroke="#a8a8a8" stroke-width="1"/><text x="692.8" y="592.8" font-family="Liberation Sans, Arial, sans-serif" font-size="10" font-weight="bold" fill="#202020">21</text><line x1="714.5" y1="584" x2="714.5" y2="585" stroke="#a8a8a8" stroke-width="1"/><text x="712.8" y="592.8" font-family="Liberation Sans, Arial, sans-serif" font-size="10" font-weight="bold" fill="#202020">28</text><line x1="734.5" y1="584" x2="734.5" y2="585" stroke="#a8a8a8" stroke-width="1"/><text x="732.7" y="592.8" font-family="Liberation Sans, Arial, sans-serif" font-size="10" font-weight="bold" fill="#202020">04</text><text x="95.2" y="604.3" font-family="Liberation Sans, Arial, sans-serif" font-size="10" font-weight="bold" fill="#282828">Jul</text><text x="204.9" y="604.3" font-family="Liberation Sans, Arial, sans-serif" font-size="10" font-weight="bold" fill="#282828">Aug</text><text x="309.7" y="604.3" font-family="Liberation Sans, Arial, sans-serif" font-size="10" font-weight="bold" fill="#282828">Sep</text><text x="414.4" y="604.3" font-family="Liberation Sans, Arial, sans-serif" font-size="10" font-weight="bold" fill="#282828">Oct</text><text x="524.2" y="604.3" font-family="Liberation Sans, Arial, sans-serif" font-size="10" font-weight="bold" fill="#282828">Nov</text><text x="623.9" y="604.3" font-family="Liberation Sans, Arial, sans-serif" font-size="10" font-weight="bold" fill="#282828">Dec</text><text x="733.6" y="604.3" font-family="Liberation Sans, Arial, sans-serif" font-size="10" font-weight="bold" fill="#282828">2016</text>
<rect x="672.5" y="583.7" width="42.5" height="11.3" fill="#ff6a1a"/>
<text x="675" y="593.2" font-family="Liberation Sans, Arial, sans-serif" font-size="10" font-weight="bold" fill="#fff" textLength="38" lengthAdjust="spacingAndGlyphs">12/21/15</text>
<rect x="0" y="18.5" width="1.7" height="589" fill="#b2b2b2"/>
<rect x="1098.9" y="18.5" width="1.1" height="589" fill="#dcdcdc"/>
<line x1="0" y1="607.3" x2="1100" y2="607.3" stroke="#404040" stroke-width="1.1"/>
<rect x="0" y="607.9" width="1100" height="9.1" fill="#e6e6e6"/><rect x="0" y="616.2" width="1100" height="0.8" fill="#c8c8c8"/>
<text x="1096.5" y="615.2" font-family="Liberation Sans, Arial, sans-serif" font-size="8" fill="#202020" text-anchor="end" textLength="121" lengthAdjust="spacingAndGlyphs">Published by eSignal (www.esignal.com)</text>
<rect x="0" y="0" width="1100" height="18" fill="#f0f0f0"/><line x1="0" y1="0.5" x2="1100" y2="0.5" stroke="#dcdcdc" stroke-width="1"/><line x1="0" y1="17.7" x2="421" y2="17.7" stroke="#9c9c9c" stroke-width="1.4"/><line x1="421" y1="18.2" x2="1100" y2="18.2" stroke="#747474" stroke-width="1.2"/><line x1="2.5" y1="2" x2="2.5" y2="16" stroke="#c8c8c8" stroke-width="1"/><rect x="6" y="2.3" width="15.5" height="14" fill="#f8f8f8" stroke="#d8d8d8" stroke-width="0.8"/><rect x="8.7" y="5.2" width="11.7" height="3.6" fill="#00e000" stroke="#006000" stroke-width="0.7"/><rect x="9.6" y="10.6" width="4.6" height="3.8" rx="1.7" fill="#e0e000" stroke="#707000" stroke-width="0.9"/><rect x="15.6" y="10.6" width="4.6" height="3.8" rx="1.7" fill="#e0e000" stroke="#707000" stroke-width="0.9"/><rect x="12.2" y="11.6" width="5.4" height="1.8" fill="#c8c800" stroke="#707000" stroke-width="0.5"/><rect x="11" y="11.9" width="1.6" height="1.2" fill="#606000"/><rect x="17.2" y="11.9" width="1.6" height="1.2" fill="#606000"/><rect x="25.8" y="5.3" width="8" height="8.6" fill="#fff" stroke="#303030" stroke-width="1"/><path d="M27.5 7.5h2v2h-2zM30.5 9.5h2v2h-2zM29.8 5.5v8M26 9.6h8" stroke="#303030" stroke-width="0.9" fill="#303030"/><rect x="40.6" y="4.4" width="7" height="8" fill="#e8e8e8" stroke="#404040" stroke-width="0.9"/><rect x="43.2" y="6.4" width="7" height="8" fill="#fff" stroke="#202020" stroke-width="1"/><path d="M46.7 7.5v6M44 10.8h5.5" stroke="#202020" stroke-width="0.9"/><rect x="55.5" y="6.2" width="8" height="8" fill="#fff" stroke="#303030" stroke-width="1"/><rect x="59" y="4.2" width="6" height="4" fill="#e0e0e0" stroke="#404040" stroke-width="0.8"/><rect x="65" y="3.6" width="2" height="2.6" fill="#0000a0"/><path d="M57.5 9v5M60.5 8.5v5.5M56 11.5h7" stroke="#303030" stroke-width="0.9"/><path d="M76.5 5.6v8M72.4 9.6h8.2" stroke="#000" stroke-width="2"/><path d="M88.5 6 h4.2 l1 1.2 h5.6 v6.3 h-10.8 z" fill="#ffff8c" stroke="#a8a860" stroke-width="0.8"/><path d="M88.9 13.6 h10.6 v-5.6" fill="none" stroke="#8c8c50" stroke-width="0.7"/><text x="104" y="13" font-family="Liberation Sans, Arial, sans-serif" font-size="9" fill="#202020" textLength="30" lengthAdjust="spacingAndGlyphs">Equities</text><path d="M137.6 9 h4 l-2 2.2z" fill="#303030"/><path d="M149.5 6 h4.2 l1 1.2 h5.6 v6.3 h-10.8 z" fill="#ffff8c" stroke="#a8a860" stroke-width="0.8"/><path d="M149.9 13.6 h10.6 v-5.6" fill="none" stroke="#8c8c50" stroke-width="0.7"/><text x="164.5" y="13" font-family="Liberation Sans, Arial, sans-serif" font-size="9" fill="#202020" textLength="58" lengthAdjust="spacingAndGlyphs">Other Intervals</text><path d="M227 9 h4 l-2 2.2z" fill="#303030"/><circle cx="242.5" cy="9.5" r="4.5" fill="#fff" stroke="#404040" stroke-width="0.85"/><path d="M241.1 7.3h2.8M242.5 7.3v4.4M241.1 11.7h2.8" stroke="#202020" stroke-width="0.7"/><text x="251.5" y="13" font-family="Liberation Sans, Arial, sans-serif" font-size="9" fill="#202020" textLength="5" lengthAdjust="spacingAndGlyphs">5</text><circle cx="269.5" cy="9.5" r="4.5" fill="#fff" stroke="#404040" stroke-width="0.85"/><path d="M268.1 7.3h2.8M269.5 7.3v4.4M268.1 11.7h2.8" stroke="#202020" stroke-width="0.7"/><text x="278.5" y="13" font-family="Liberation Sans, Arial, sans-serif" font-size="9" fill="#202020" textLength="9.5" lengthAdjust="spacingAndGlyphs">60</text><circle cx="301.5" cy="9.5" r="4.5" fill="#fff" stroke="#404040" stroke-width="0.85"/><path d="M300.1 7.3h2.8M301.5 7.3v4.4M300.1 11.7h2.8" stroke="#202020" stroke-width="0.7"/><text x="310.5" y="13" font-family="Liberation Sans, Arial, sans-serif" font-size="9" fill="#202020" textLength="14.5" lengthAdjust="spacingAndGlyphs">240</text><circle cx="338.5" cy="9.5" r="4.5" fill="#fff" stroke="#404040" stroke-width="0.85"/><path d="M337.1 7.3h2.8M338.5 7.3v4.4M337.1 11.7h2.8" stroke="#202020" stroke-width="0.7"/><text x="347.5" y="13" font-family="Liberation Sans, Arial, sans-serif" font-size="9" fill="#202020" textLength="17.5" lengthAdjust="spacingAndGlyphs">Daily</text><circle cx="377.5" cy="9.5" r="4.5" fill="#fff" stroke="#404040" stroke-width="0.85"/><path d="M376.1 7.3h2.8M377.5 7.3v4.4M376.1 11.7h2.8" stroke="#202020" stroke-width="0.7"/><text x="386.5" y="13" font-family="Liberation Sans, Arial, sans-serif" font-size="9" fill="#202020" textLength="27" lengthAdjust="spacingAndGlyphs">weekly</text><line x1="420.5" y1="1" x2="420.5" y2="17" stroke="#c0c0c0" stroke-width="1"/>
</svg></body></html>
